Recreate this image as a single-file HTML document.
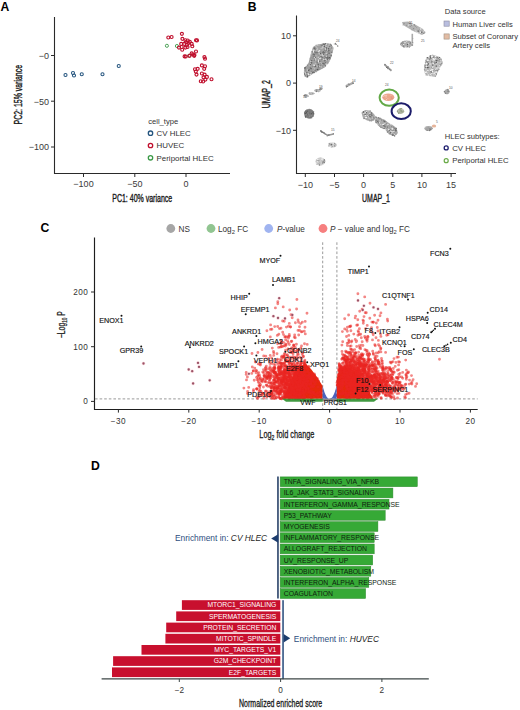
<!DOCTYPE html>
<html><head><meta charset="utf-8"><style>
html,body{margin:0;padding:0;background:#fff;width:520px;height:710px;overflow:hidden}
svg{display:block;font-family:"Liberation Sans",sans-serif}
</style></head><body>
<svg width="520" height="710" viewBox="0 0 520 710">
<text x="0.6" y="10.5" font-size="12.2" fill="#000" font-weight="bold">A</text>
<text x="247.8" y="10.8" font-size="12.2" fill="#000" font-weight="bold">B</text>
<text x="40.4" y="232.2" font-size="12.2" fill="#000" font-weight="bold">C</text>
<text x="91.1" y="469.9" font-size="12.2" fill="#000" font-weight="bold">D</text>
<path d="M54.5 17V173.5H230" fill="none" stroke="#2a2a2a" stroke-width="1.1"/>
<path d="M51 55.5H54.5" stroke="#2a2a2a" stroke-width="1"/>
<text x="49.0" y="58.7" font-size="9.0" fill="#3a3a3a" text-anchor="end">−0</text>
<path d="M51 101.2H54.5" stroke="#2a2a2a" stroke-width="1"/>
<text x="49.0" y="104.5" font-size="9.0" fill="#3a3a3a" text-anchor="end">−50</text>
<path d="M51 147.0H54.5" stroke="#2a2a2a" stroke-width="1"/>
<text x="49.0" y="150.2" font-size="9.0" fill="#3a3a3a" text-anchor="end">−100</text>
<path d="M83.5 173.5V177" stroke="#2a2a2a" stroke-width="1"/>
<text x="83.5" y="187.0" font-size="9.0" fill="#3a3a3a" text-anchor="middle">−100</text>
<path d="M134.8 173.5V177" stroke="#2a2a2a" stroke-width="1"/>
<text x="134.8" y="187.0" font-size="9.0" fill="#3a3a3a" text-anchor="middle">−50</text>
<path d="M186.0 173.5V177" stroke="#2a2a2a" stroke-width="1"/>
<text x="186.0" y="187.0" font-size="9.0" fill="#3a3a3a" text-anchor="middle">0</text>
<text transform="translate(142.2,201.6) scale(0.60,1)" font-size="11.7" fill="#1a1a1a" stroke="#1a1a1a" stroke-width="0.4" text-anchor="middle">PC1: 40% variance</text>
<text transform="translate(22.0,94.7) rotate(-90) scale(0.595,1)" font-size="11.7" fill="#1a1a1a" stroke="#1a1a1a" stroke-width="0.4" text-anchor="middle">PC2: 15% variance</text>
<text x="148.2" y="124.0" font-size="7.6" fill="#333">cell_type</text>
<circle cx="150.5" cy="133.2" r="2.2" fill="none" stroke="#25557f" stroke-width="1.3"/>
<text x="156.6" y="136.0" font-size="7.9" fill="#333">CV HLEC</text>
<circle cx="150.5" cy="145.5" r="2.2" fill="none" stroke="#c0102e" stroke-width="1.3"/>
<text x="156.6" y="148.3" font-size="7.9" fill="#333">HUVEC</text>
<circle cx="150.5" cy="157.8" r="2.2" fill="none" stroke="#3c9a48" stroke-width="1.3"/>
<text x="156.6" y="160.6" font-size="7.9" fill="#333">Periportal HLEC</text>
<circle cx="65.5" cy="75" r="1.55" fill="none" stroke="#25557f" stroke-width="1.05"/>
<circle cx="73" cy="73" r="1.55" fill="none" stroke="#25557f" stroke-width="1.05"/>
<circle cx="74" cy="75.5" r="1.55" fill="none" stroke="#25557f" stroke-width="1.05"/>
<circle cx="81.75" cy="74.25" r="1.55" fill="none" stroke="#25557f" stroke-width="1.05"/>
<circle cx="102.5" cy="74.25" r="1.55" fill="none" stroke="#25557f" stroke-width="1.05"/>
<circle cx="118.75" cy="66" r="1.55" fill="none" stroke="#25557f" stroke-width="1.05"/>
<circle cx="166.9" cy="45.8" r="1.55" fill="none" stroke="#3c9a48" stroke-width="0.9"/>
<circle cx="176.9" cy="46" r="1.55" fill="none" stroke="#3c9a48" stroke-width="0.9"/>
<circle cx="189.1" cy="55.7" r="1.55" fill="none" stroke="#3c9a48" stroke-width="0.9"/>
<circle cx="168.3" cy="37.5" r="1.5" fill="none" stroke="#c0102e" stroke-width="1.15"/>
<circle cx="171.6" cy="37" r="1.5" fill="none" stroke="#c0102e" stroke-width="1.15"/>
<circle cx="181.9" cy="33.8" r="1.5" fill="none" stroke="#c0102e" stroke-width="1.15"/>
<circle cx="182.4" cy="38.8" r="1.5" fill="none" stroke="#c0102e" stroke-width="1.15"/>
<circle cx="185.4" cy="40.2" r="1.5" fill="none" stroke="#c0102e" stroke-width="1.15"/>
<circle cx="187.7" cy="40.5" r="1.5" fill="none" stroke="#c0102e" stroke-width="1.15"/>
<circle cx="189.8" cy="41.8" r="1.5" fill="none" stroke="#c0102e" stroke-width="1.15"/>
<circle cx="196" cy="40.2" r="1.5" fill="none" stroke="#c0102e" stroke-width="1.15"/>
<circle cx="197" cy="40.4" r="1.5" fill="none" stroke="#c0102e" stroke-width="1.15"/>
<circle cx="181.2" cy="43.9" r="1.5" fill="none" stroke="#c0102e" stroke-width="1.15"/>
<circle cx="184.3" cy="43.9" r="1.5" fill="none" stroke="#c0102e" stroke-width="1.15"/>
<circle cx="187" cy="44.9" r="1.5" fill="none" stroke="#c0102e" stroke-width="1.15"/>
<circle cx="191.7" cy="43.9" r="1.5" fill="none" stroke="#c0102e" stroke-width="1.15"/>
<circle cx="192.3" cy="46.2" r="1.5" fill="none" stroke="#c0102e" stroke-width="1.15"/>
<circle cx="179" cy="47.6" r="1.5" fill="none" stroke="#c0102e" stroke-width="1.15"/>
<circle cx="181.7" cy="47" r="1.5" fill="none" stroke="#c0102e" stroke-width="1.15"/>
<circle cx="182.2" cy="49.7" r="1.5" fill="none" stroke="#c0102e" stroke-width="1.15"/>
<circle cx="185.4" cy="47.6" r="1.5" fill="none" stroke="#c0102e" stroke-width="1.15"/>
<circle cx="187.5" cy="47" r="1.5" fill="none" stroke="#c0102e" stroke-width="1.15"/>
<circle cx="186" cy="42" r="1.5" fill="none" stroke="#c0102e" stroke-width="1.15"/>
<circle cx="188.5" cy="43" r="1.5" fill="none" stroke="#c0102e" stroke-width="1.15"/>
<circle cx="184.6" cy="56.4" r="1.5" fill="none" stroke="#c0102e" stroke-width="1.15"/>
<circle cx="191.7" cy="53.4" r="1.5" fill="none" stroke="#c0102e" stroke-width="1.15"/>
<circle cx="194.4" cy="55" r="1.5" fill="none" stroke="#c0102e" stroke-width="1.15"/>
<circle cx="196" cy="51.5" r="1.5" fill="none" stroke="#c0102e" stroke-width="1.15"/>
<circle cx="193" cy="54.5" r="1.5" fill="none" stroke="#c0102e" stroke-width="1.15"/>
<circle cx="204.4" cy="57.1" r="1.5" fill="none" stroke="#c0102e" stroke-width="1.15"/>
<circle cx="205" cy="58.7" r="1.5" fill="none" stroke="#c0102e" stroke-width="1.15"/>
<circle cx="185.8" cy="56.5" r="1.5" fill="none" stroke="#c0102e" stroke-width="1.15"/>
<circle cx="189.6" cy="55.8" r="1.5" fill="none" stroke="#c0102e" stroke-width="1.15"/>
<circle cx="194.2" cy="55.8" r="1.5" fill="none" stroke="#c0102e" stroke-width="1.15"/>
<circle cx="201.9" cy="65.4" r="1.5" fill="none" stroke="#c0102e" stroke-width="1.15"/>
<circle cx="205" cy="66.2" r="1.5" fill="none" stroke="#c0102e" stroke-width="1.15"/>
<circle cx="204.2" cy="68.8" r="1.5" fill="none" stroke="#c0102e" stroke-width="1.15"/>
<circle cx="195" cy="69.2" r="1.5" fill="none" stroke="#c0102e" stroke-width="1.15"/>
<circle cx="197.7" cy="68.8" r="1.5" fill="none" stroke="#c0102e" stroke-width="1.15"/>
<circle cx="195.8" cy="71.5" r="1.5" fill="none" stroke="#c0102e" stroke-width="1.15"/>
<circle cx="196.5" cy="74.6" r="1.5" fill="none" stroke="#c0102e" stroke-width="1.15"/>
<circle cx="201.9" cy="73.5" r="1.5" fill="none" stroke="#c0102e" stroke-width="1.15"/>
<circle cx="204.6" cy="74.6" r="1.5" fill="none" stroke="#c0102e" stroke-width="1.15"/>
<circle cx="203.5" cy="77.3" r="1.5" fill="none" stroke="#c0102e" stroke-width="1.15"/>
<circle cx="206.9" cy="76.9" r="1.5" fill="none" stroke="#c0102e" stroke-width="1.15"/>
<circle cx="211.5" cy="79.2" r="1.5" fill="none" stroke="#c0102e" stroke-width="1.15"/>
<circle cx="200.8" cy="81.2" r="1.5" fill="none" stroke="#c0102e" stroke-width="1.15"/>
<circle cx="203.1" cy="81.5" r="1.5" fill="none" stroke="#c0102e" stroke-width="1.15"/>
<circle cx="205.4" cy="79.6" r="1.5" fill="none" stroke="#c0102e" stroke-width="1.15"/>
<path d="M296.5 15.6V173.5H456" fill="none" stroke="#2a2a2a" stroke-width="1.1"/>
<path d="M293 35.8H296.5" stroke="#2a2a2a" stroke-width="1"/>
<text x="291.0" y="39.0" font-size="9.0" fill="#3a3a3a" text-anchor="end">10</text>
<path d="M293 83.1H296.5" stroke="#2a2a2a" stroke-width="1"/>
<text x="291.0" y="86.3" font-size="9.0" fill="#3a3a3a" text-anchor="end">0</text>
<path d="M293 130.3H296.5" stroke="#2a2a2a" stroke-width="1"/>
<text x="291.0" y="133.5" font-size="9.0" fill="#3a3a3a" text-anchor="end">−10</text>
<path d="M305.3 173.5V177" stroke="#2a2a2a" stroke-width="1"/>
<text x="305.3" y="187.5" font-size="9.0" fill="#3a3a3a" text-anchor="middle">−10</text>
<path d="M334.5 173.5V177" stroke="#2a2a2a" stroke-width="1"/>
<text x="334.5" y="187.5" font-size="9.0" fill="#3a3a3a" text-anchor="middle">−5</text>
<path d="M363.6 173.5V177" stroke="#2a2a2a" stroke-width="1"/>
<text x="363.6" y="187.5" font-size="9.0" fill="#3a3a3a" text-anchor="middle">0</text>
<path d="M392.8 173.5V177" stroke="#2a2a2a" stroke-width="1"/>
<text x="392.8" y="187.5" font-size="9.0" fill="#3a3a3a" text-anchor="middle">5</text>
<path d="M421.9 173.5V177" stroke="#2a2a2a" stroke-width="1"/>
<text x="421.9" y="187.5" font-size="9.0" fill="#3a3a3a" text-anchor="middle">10</text>
<path d="M451.1 173.5V177" stroke="#2a2a2a" stroke-width="1"/>
<text x="451.1" y="187.5" font-size="9.0" fill="#3a3a3a" text-anchor="middle">15</text>
<text transform="translate(376,201.6) scale(0.596,1)" font-size="11.7" fill="#1a1a1a" stroke="#1a1a1a" stroke-width="0.4" text-anchor="middle">UMAP_1</text>
<text transform="translate(269.8,94.2) rotate(-90) scale(0.605,1)" font-size="11.7" fill="#1a1a1a" stroke="#1a1a1a" stroke-width="0.4" text-anchor="middle">UMAP_2</text>
<polygon points="303.8,72.3 305.0,67.0 308.5,63.0 310.0,57.0 311.5,51.5 313.0,47.0 316.0,45.0 322.0,43.8 328.0,43.2 331.5,44.5 333.5,48.0 333.0,51.0 331.5,56.0 330.8,59.0 328.5,63.0 325.4,67.0 320.0,70.0 315.4,72.3 311.0,75.0 307.0,77.7 304.5,76.5" fill="#a0a0a0"/>
<circle cx="313.4" cy="48.4" r="0.42" fill="#ccc"/>
<circle cx="328.2" cy="46.4" r="0.42" fill="#bbb"/>
<circle cx="318.9" cy="44.5" r="0.57" fill="#999"/>
<circle cx="310.9" cy="62.2" r="0.73" fill="#555"/>
<circle cx="320.9" cy="56.9" r="0.42" fill="#666"/>
<circle cx="329.3" cy="53.2" r="0.62" fill="#666"/>
<circle cx="320.8" cy="62.5" r="0.47" fill="#ccc"/>
<circle cx="321.1" cy="65.2" r="0.44" fill="#777"/>
<circle cx="324.9" cy="62.7" r="0.48" fill="#bbb"/>
<circle cx="324.0" cy="58.0" r="0.59" fill="#777"/>
<circle cx="331.2" cy="55.7" r="0.72" fill="#666"/>
<circle cx="324.6" cy="51.6" r="0.52" fill="#bbb"/>
<circle cx="318.5" cy="55.0" r="0.52" fill="#999"/>
<circle cx="332.9" cy="47.3" r="0.47" fill="#999"/>
<circle cx="313.9" cy="55.3" r="0.63" fill="#999"/>
<circle cx="323.5" cy="45.3" r="0.52" fill="#ccc"/>
<circle cx="321.0" cy="66.7" r="0.51" fill="#999"/>
<circle cx="315.3" cy="66.3" r="0.78" fill="#555"/>
<circle cx="314.4" cy="64.3" r="0.42" fill="#999"/>
<circle cx="326.6" cy="47.7" r="0.56" fill="#666"/>
<circle cx="316.6" cy="62.2" r="0.57" fill="#ccc"/>
<circle cx="332.2" cy="48.4" r="0.46" fill="#666"/>
<circle cx="328.5" cy="49.5" r="0.40" fill="#777"/>
<circle cx="316.2" cy="55.9" r="0.53" fill="#bbb"/>
<circle cx="307.5" cy="72.8" r="0.66" fill="#bbb"/>
<circle cx="325.8" cy="59.0" r="0.71" fill="#eee"/>
<circle cx="315.5" cy="57.0" r="0.59" fill="#555"/>
<circle cx="315.7" cy="49.8" r="0.58" fill="#666"/>
<circle cx="322.0" cy="45.6" r="0.65" fill="#666"/>
<circle cx="314.1" cy="55.8" r="0.45" fill="#555"/>
<circle cx="318.1" cy="54.0" r="0.44" fill="#666"/>
<circle cx="314.0" cy="52.3" r="0.68" fill="#eee"/>
<circle cx="319.1" cy="50.3" r="0.54" fill="#bbb"/>
<circle cx="326.3" cy="53.5" r="0.75" fill="#ccc"/>
<circle cx="324.5" cy="52.2" r="0.76" fill="#777"/>
<circle cx="314.4" cy="50.9" r="0.71" fill="#bbb"/>
<circle cx="313.6" cy="50.9" r="0.72" fill="#eee"/>
<circle cx="326.3" cy="49.9" r="0.73" fill="#666"/>
<circle cx="325.8" cy="51.0" r="0.60" fill="#bbb"/>
<circle cx="327.3" cy="59.5" r="0.68" fill="#666"/>
<circle cx="328.8" cy="59.7" r="0.54" fill="#ccc"/>
<circle cx="324.9" cy="50.1" r="0.57" fill="#666"/>
<circle cx="322.7" cy="46.2" r="0.56" fill="#ccc"/>
<circle cx="325.3" cy="49.1" r="0.41" fill="#666"/>
<circle cx="321.3" cy="59.3" r="0.46" fill="#ccc"/>
<circle cx="323.3" cy="55.3" r="0.62" fill="#bbb"/>
<circle cx="304.4" cy="70.8" r="0.66" fill="#ccc"/>
<circle cx="328.3" cy="50.5" r="0.49" fill="#777"/>
<circle cx="318.7" cy="69.5" r="0.50" fill="#777"/>
<circle cx="316.2" cy="47.7" r="0.54" fill="#ccc"/>
<circle cx="317.4" cy="63.3" r="0.57" fill="#bbb"/>
<circle cx="319.6" cy="61.3" r="0.75" fill="#555"/>
<circle cx="326.9" cy="64.2" r="0.72" fill="#eee"/>
<circle cx="325.3" cy="62.4" r="0.67" fill="#777"/>
<circle cx="319.6" cy="59.8" r="0.44" fill="#eee"/>
<circle cx="320.4" cy="51.8" r="0.42" fill="#777"/>
<circle cx="304.6" cy="74.0" r="0.58" fill="#555"/>
<circle cx="322.0" cy="60.6" r="0.48" fill="#bbb"/>
<circle cx="312.0" cy="60.7" r="0.59" fill="#eee"/>
<circle cx="311.5" cy="62.5" r="0.74" fill="#666"/>
<circle cx="316.9" cy="45.7" r="0.57" fill="#666"/>
<circle cx="307.4" cy="70.0" r="0.66" fill="#ccc"/>
<circle cx="314.7" cy="51.9" r="0.79" fill="#666"/>
<circle cx="315.6" cy="60.0" r="0.73" fill="#ccc"/>
<circle cx="319.1" cy="54.9" r="0.54" fill="#666"/>
<circle cx="313.8" cy="59.0" r="0.41" fill="#ccc"/>
<circle cx="313.6" cy="64.7" r="0.78" fill="#bbb"/>
<circle cx="307.2" cy="74.9" r="0.79" fill="#666"/>
<circle cx="305.0" cy="70.1" r="0.70" fill="#777"/>
<circle cx="315.9" cy="61.7" r="0.63" fill="#bbb"/>
<circle cx="324.6" cy="46.3" r="0.72" fill="#555"/>
<circle cx="309.2" cy="74.1" r="0.78" fill="#777"/>
<circle cx="306.3" cy="72.7" r="0.51" fill="#555"/>
<circle cx="305.1" cy="67.7" r="0.79" fill="#555"/>
<circle cx="319.6" cy="50.3" r="0.60" fill="#999"/>
<circle cx="320.2" cy="49.7" r="0.50" fill="#999"/>
<circle cx="317.1" cy="65.9" r="0.57" fill="#ccc"/>
<circle cx="315.5" cy="60.7" r="0.49" fill="#ccc"/>
<circle cx="329.9" cy="58.1" r="0.43" fill="#555"/>
<circle cx="323.7" cy="52.9" r="0.68" fill="#666"/>
<circle cx="314.6" cy="54.5" r="0.53" fill="#bbb"/>
<circle cx="304.8" cy="73.6" r="0.54" fill="#666"/>
<circle cx="317.9" cy="60.5" r="0.50" fill="#666"/>
<circle cx="326.9" cy="46.3" r="0.44" fill="#eee"/>
<circle cx="310.7" cy="63.4" r="0.74" fill="#bbb"/>
<circle cx="308.4" cy="74.0" r="0.75" fill="#eee"/>
<circle cx="315.4" cy="54.5" r="0.46" fill="#999"/>
<circle cx="325.3" cy="65.4" r="0.73" fill="#555"/>
<circle cx="325.0" cy="60.9" r="0.69" fill="#999"/>
<circle cx="327.9" cy="48.0" r="0.70" fill="#bbb"/>
<circle cx="315.0" cy="58.8" r="0.65" fill="#555"/>
<circle cx="322.4" cy="66.7" r="0.51" fill="#999"/>
<circle cx="317.4" cy="45.6" r="0.76" fill="#bbb"/>
<circle cx="325.9" cy="59.5" r="0.43" fill="#eee"/>
<circle cx="311.7" cy="68.4" r="0.49" fill="#666"/>
<circle cx="323.1" cy="59.1" r="0.55" fill="#eee"/>
<circle cx="318.0" cy="66.8" r="0.42" fill="#eee"/>
<circle cx="322.6" cy="50.0" r="0.46" fill="#bbb"/>
<circle cx="311.3" cy="68.8" r="0.65" fill="#777"/>
<circle cx="318.3" cy="67.7" r="0.59" fill="#777"/>
<circle cx="317.7" cy="47.3" r="0.48" fill="#bbb"/>
<circle cx="317.1" cy="52.5" r="0.77" fill="#666"/>
<circle cx="331.4" cy="45.8" r="0.46" fill="#555"/>
<circle cx="307.7" cy="71.5" r="0.51" fill="#bbb"/>
<circle cx="315.5" cy="48.7" r="0.67" fill="#999"/>
<circle cx="315.8" cy="68.3" r="0.54" fill="#999"/>
<circle cx="313.2" cy="72.2" r="0.53" fill="#555"/>
<circle cx="313.8" cy="56.9" r="0.69" fill="#666"/>
<circle cx="330.6" cy="53.2" r="0.43" fill="#777"/>
<circle cx="306.1" cy="75.1" r="0.51" fill="#eee"/>
<circle cx="328.6" cy="53.1" r="0.50" fill="#666"/>
<circle cx="311.7" cy="60.8" r="0.71" fill="#666"/>
<circle cx="327.1" cy="58.0" r="0.72" fill="#555"/>
<circle cx="325.2" cy="44.9" r="0.56" fill="#ccc"/>
<circle cx="322.1" cy="48.0" r="0.51" fill="#eee"/>
<circle cx="305.3" cy="75.2" r="0.47" fill="#666"/>
<circle cx="316.1" cy="52.9" r="0.70" fill="#777"/>
<circle cx="323.3" cy="53.6" r="0.67" fill="#bbb"/>
<circle cx="307.4" cy="65.4" r="0.48" fill="#555"/>
<circle cx="310.3" cy="74.5" r="0.58" fill="#eee"/>
<circle cx="311.5" cy="62.9" r="0.70" fill="#555"/>
<circle cx="316.1" cy="57.5" r="0.48" fill="#bbb"/>
<circle cx="311.8" cy="69.1" r="0.51" fill="#999"/>
<circle cx="332.5" cy="47.5" r="0.61" fill="#bbb"/>
<circle cx="306.6" cy="74.1" r="0.56" fill="#999"/>
<circle cx="317.9" cy="63.5" r="0.43" fill="#555"/>
<circle cx="319.5" cy="59.4" r="0.50" fill="#999"/>
<circle cx="319.3" cy="66.7" r="0.69" fill="#eee"/>
<circle cx="317.4" cy="62.2" r="0.40" fill="#555"/>
<circle cx="304.9" cy="67.9" r="0.65" fill="#666"/>
<circle cx="319.5" cy="58.3" r="0.44" fill="#eee"/>
<circle cx="321.1" cy="56.6" r="0.72" fill="#666"/>
<circle cx="313.2" cy="72.2" r="0.59" fill="#666"/>
<circle cx="318.6" cy="66.5" r="0.43" fill="#999"/>
<circle cx="310.6" cy="57.8" r="0.49" fill="#777"/>
<circle cx="316.3" cy="66.7" r="0.40" fill="#666"/>
<circle cx="312.5" cy="72.4" r="0.48" fill="#555"/>
<circle cx="328.2" cy="51.2" r="0.51" fill="#666"/>
<circle cx="330.2" cy="47.0" r="0.60" fill="#bbb"/>
<circle cx="316.2" cy="66.2" r="0.46" fill="#bbb"/>
<circle cx="315.5" cy="50.5" r="0.46" fill="#bbb"/>
<circle cx="313.6" cy="49.6" r="0.70" fill="#bbb"/>
<circle cx="315.0" cy="56.1" r="0.58" fill="#777"/>
<circle cx="326.3" cy="56.3" r="0.73" fill="#eee"/>
<circle cx="328.2" cy="58.1" r="0.68" fill="#555"/>
<circle cx="309.6" cy="61.9" r="0.48" fill="#999"/>
<circle cx="305.7" cy="74.9" r="0.48" fill="#777"/>
<circle cx="314.6" cy="54.8" r="0.42" fill="#bbb"/>
<circle cx="331.2" cy="53.5" r="0.70" fill="#ccc"/>
<circle cx="310.7" cy="59.6" r="0.78" fill="#999"/>
<circle cx="315.3" cy="51.9" r="0.73" fill="#999"/>
<circle cx="312.8" cy="67.1" r="0.64" fill="#666"/>
<circle cx="313.5" cy="54.2" r="0.71" fill="#777"/>
<circle cx="321.5" cy="60.9" r="0.70" fill="#999"/>
<circle cx="324.9" cy="58.6" r="0.45" fill="#666"/>
<circle cx="310.8" cy="61.8" r="0.67" fill="#eee"/>
<circle cx="307.4" cy="72.2" r="0.51" fill="#777"/>
<circle cx="311.7" cy="52.0" r="0.48" fill="#777"/>
<circle cx="308.4" cy="73.7" r="0.48" fill="#bbb"/>
<circle cx="311.1" cy="61.4" r="0.72" fill="#ccc"/>
<circle cx="331.0" cy="44.6" r="0.49" fill="#777"/>
<circle cx="328.4" cy="49.9" r="0.55" fill="#555"/>
<circle cx="329.5" cy="58.7" r="0.71" fill="#777"/>
<circle cx="322.7" cy="67.7" r="0.49" fill="#777"/>
<circle cx="314.8" cy="48.1" r="0.80" fill="#666"/>
<circle cx="304.9" cy="68.5" r="0.73" fill="#666"/>
<circle cx="328.1" cy="57.3" r="0.47" fill="#777"/>
<circle cx="313.1" cy="50.2" r="0.60" fill="#eee"/>
<circle cx="318.2" cy="57.3" r="0.56" fill="#eee"/>
<circle cx="320.1" cy="65.3" r="0.66" fill="#555"/>
<circle cx="315.6" cy="52.6" r="0.67" fill="#777"/>
<circle cx="316.2" cy="45.0" r="0.63" fill="#ccc"/>
<circle cx="314.4" cy="57.6" r="0.71" fill="#eee"/>
<circle cx="315.4" cy="57.2" r="0.57" fill="#555"/>
<circle cx="314.6" cy="69.9" r="0.41" fill="#666"/>
<circle cx="320.2" cy="65.3" r="0.44" fill="#999"/>
<circle cx="322.3" cy="56.0" r="0.47" fill="#bbb"/>
<circle cx="314.1" cy="48.8" r="0.77" fill="#666"/>
<circle cx="318.1" cy="45.0" r="0.56" fill="#ccc"/>
<circle cx="328.3" cy="48.7" r="0.74" fill="#eee"/>
<circle cx="322.2" cy="64.4" r="0.73" fill="#666"/>
<circle cx="315.7" cy="61.1" r="0.54" fill="#999"/>
<circle cx="308.2" cy="76.7" r="0.76" fill="#eee"/>
<circle cx="326.3" cy="44.5" r="0.53" fill="#eee"/>
<circle cx="315.4" cy="58.9" r="0.65" fill="#eee"/>
<circle cx="312.9" cy="57.7" r="0.50" fill="#bbb"/>
<circle cx="315.4" cy="55.9" r="0.58" fill="#bbb"/>
<circle cx="318.3" cy="51.3" r="0.65" fill="#eee"/>
<circle cx="327.9" cy="57.0" r="0.45" fill="#555"/>
<circle cx="316.6" cy="46.4" r="0.60" fill="#999"/>
<circle cx="323.3" cy="44.6" r="0.43" fill="#666"/>
<circle cx="319.0" cy="45.1" r="0.76" fill="#bbb"/>
<circle cx="322.0" cy="67.1" r="0.48" fill="#555"/>
<circle cx="308.7" cy="70.4" r="0.43" fill="#666"/>
<circle cx="314.2" cy="69.3" r="0.53" fill="#666"/>
<circle cx="317.4" cy="52.0" r="0.48" fill="#999"/>
<circle cx="311.6" cy="60.7" r="0.55" fill="#777"/>
<circle cx="322.7" cy="52.8" r="0.76" fill="#777"/>
<circle cx="308.8" cy="70.3" r="0.71" fill="#555"/>
<circle cx="305.2" cy="72.8" r="0.58" fill="#eee"/>
<circle cx="319.3" cy="67.0" r="0.50" fill="#555"/>
<circle cx="325.7" cy="56.0" r="0.80" fill="#999"/>
<circle cx="320.9" cy="55.6" r="0.43" fill="#eee"/>
<circle cx="310.6" cy="64.4" r="0.52" fill="#555"/>
<circle cx="319.1" cy="53.9" r="0.63" fill="#eee"/>
<circle cx="323.5" cy="54.0" r="0.70" fill="#555"/>
<circle cx="322.4" cy="57.6" r="0.76" fill="#777"/>
<circle cx="323.2" cy="44.0" r="0.63" fill="#555"/>
<circle cx="312.8" cy="61.2" r="0.49" fill="#bbb"/>
<circle cx="321.1" cy="63.5" r="0.55" fill="#666"/>
<circle cx="328.4" cy="48.7" r="0.77" fill="#555"/>
<circle cx="306.6" cy="65.2" r="0.67" fill="#eee"/>
<circle cx="311.8" cy="71.2" r="0.42" fill="#555"/>
<circle cx="321.5" cy="63.2" r="0.77" fill="#bbb"/>
<circle cx="325.6" cy="51.8" r="0.42" fill="#555"/>
<circle cx="319.6" cy="57.2" r="0.46" fill="#666"/>
<circle cx="330.9" cy="46.8" r="0.62" fill="#bbb"/>
<circle cx="331.7" cy="48.1" r="0.61" fill="#666"/>
<circle cx="322.9" cy="65.5" r="0.73" fill="#999"/>
<circle cx="317.6" cy="68.8" r="0.47" fill="#999"/>
<circle cx="322.9" cy="47.5" r="0.77" fill="#ccc"/>
<circle cx="331.8" cy="52.3" r="0.51" fill="#555"/>
<circle cx="320.2" cy="58.2" r="0.77" fill="#eee"/>
<circle cx="308.8" cy="74.4" r="0.70" fill="#eee"/>
<circle cx="313.6" cy="51.5" r="0.65" fill="#eee"/>
<circle cx="324.4" cy="66.2" r="0.59" fill="#bbb"/>
<circle cx="329.3" cy="58.3" r="0.49" fill="#ccc"/>
<circle cx="315.4" cy="63.4" r="0.76" fill="#bbb"/>
<circle cx="307.0" cy="75.2" r="0.79" fill="#777"/>
<circle cx="324.6" cy="44.3" r="0.68" fill="#666"/>
<circle cx="322.6" cy="67.2" r="0.42" fill="#ccc"/>
<circle cx="319.7" cy="66.1" r="0.70" fill="#eee"/>
<circle cx="324.9" cy="56.4" r="0.48" fill="#666"/>
<circle cx="322.6" cy="53.1" r="0.45" fill="#555"/>
<circle cx="312.5" cy="54.8" r="0.41" fill="#777"/>
<circle cx="311.4" cy="52.9" r="0.70" fill="#ccc"/>
<circle cx="321.7" cy="59.6" r="0.65" fill="#777"/>
<circle cx="316.8" cy="69.9" r="0.59" fill="#777"/>
<circle cx="320.9" cy="53.1" r="0.40" fill="#999"/>
<circle cx="309.8" cy="69.5" r="0.40" fill="#555"/>
<circle cx="318.4" cy="60.2" r="0.73" fill="#eee"/>
<circle cx="321.0" cy="48.7" r="0.49" fill="#eee"/>
<circle cx="324.6" cy="60.4" r="0.78" fill="#555"/>
<circle cx="326.6" cy="60.1" r="0.62" fill="#ccc"/>
<circle cx="306.6" cy="75.2" r="0.43" fill="#ccc"/>
<circle cx="330.2" cy="44.1" r="0.52" fill="#666"/>
<circle cx="316.5" cy="62.0" r="0.55" fill="#666"/>
<circle cx="330.1" cy="51.3" r="0.45" fill="#999"/>
<circle cx="321.4" cy="67.0" r="0.66" fill="#bbb"/>
<circle cx="314.2" cy="54.5" r="0.75" fill="#666"/>
<circle cx="317.2" cy="62.3" r="0.47" fill="#777"/>
<circle cx="316.8" cy="69.9" r="0.49" fill="#bbb"/>
<circle cx="313.7" cy="65.4" r="0.50" fill="#ccc"/>
<circle cx="311.2" cy="54.5" r="0.54" fill="#bbb"/>
<circle cx="333.3" cy="48.9" r="0.44" fill="#ccc"/>
<circle cx="316.7" cy="50.0" r="0.76" fill="#ccc"/>
<circle cx="312.1" cy="73.7" r="0.41" fill="#999"/>
<circle cx="315.7" cy="70.5" r="0.49" fill="#ccc"/>
<circle cx="311.0" cy="72.6" r="0.63" fill="#ccc"/>
<circle cx="326.0" cy="57.7" r="0.67" fill="#666"/>
<circle cx="322.9" cy="63.3" r="0.67" fill="#666"/>
<circle cx="322.9" cy="58.9" r="0.50" fill="#777"/>
<circle cx="311.0" cy="57.0" r="0.65" fill="#ccc"/>
<circle cx="311.2" cy="57.8" r="0.41" fill="#999"/>
<circle cx="329.3" cy="61.1" r="0.77" fill="#ccc"/>
<circle cx="309.2" cy="65.8" r="0.40" fill="#eee"/>
<circle cx="310.3" cy="67.9" r="0.61" fill="#666"/>
<circle cx="319.9" cy="67.9" r="0.41" fill="#bbb"/>
<circle cx="327.3" cy="56.0" r="0.56" fill="#777"/>
<circle cx="332.0" cy="50.4" r="0.47" fill="#ccc"/>
<circle cx="325.5" cy="64.4" r="0.42" fill="#ccc"/>
<circle cx="311.9" cy="57.0" r="0.43" fill="#555"/>
<circle cx="323.8" cy="63.2" r="0.49" fill="#555"/>
<circle cx="319.5" cy="50.8" r="0.78" fill="#eee"/>
<circle cx="317.5" cy="48.9" r="0.43" fill="#eee"/>
<circle cx="327.5" cy="49.9" r="0.62" fill="#ccc"/>
<circle cx="314.3" cy="65.2" r="0.72" fill="#eee"/>
<circle cx="326.4" cy="65.6" r="0.73" fill="#eee"/>
<circle cx="314.3" cy="72.5" r="0.68" fill="#777"/>
<circle cx="324.0" cy="59.8" r="0.69" fill="#eee"/>
<circle cx="312.2" cy="51.7" r="0.53" fill="#777"/>
<circle cx="318.2" cy="64.7" r="0.66" fill="#555"/>
<circle cx="329.2" cy="45.2" r="0.63" fill="#eee"/>
<circle cx="319.6" cy="55.1" r="0.41" fill="#bbb"/>
<circle cx="323.3" cy="51.8" r="0.63" fill="#555"/>
<circle cx="329.2" cy="49.6" r="0.54" fill="#999"/>
<circle cx="308.3" cy="74.4" r="0.61" fill="#eee"/>
<circle cx="321.9" cy="66.9" r="0.44" fill="#eee"/>
<circle cx="322.7" cy="53.4" r="0.68" fill="#999"/>
<circle cx="319.6" cy="68.8" r="0.67" fill="#999"/>
<circle cx="316.2" cy="71.7" r="0.60" fill="#999"/>
<circle cx="318.6" cy="61.8" r="0.69" fill="#eee"/>
<circle cx="324.5" cy="60.4" r="0.74" fill="#777"/>
<circle cx="314.9" cy="57.6" r="0.43" fill="#ccc"/>
<circle cx="322.7" cy="65.1" r="0.41" fill="#555"/>
<circle cx="305.2" cy="68.6" r="0.72" fill="#777"/>
<circle cx="326.3" cy="48.2" r="0.69" fill="#666"/>
<circle cx="322.4" cy="54.9" r="0.66" fill="#eee"/>
<circle cx="313.9" cy="70.1" r="0.71" fill="#bbb"/>
<circle cx="310.1" cy="58.2" r="0.50" fill="#999"/>
<circle cx="314.3" cy="60.2" r="0.60" fill="#777"/>
<circle cx="311.9" cy="60.7" r="0.66" fill="#666"/>
<circle cx="327.3" cy="54.6" r="0.69" fill="#777"/>
<circle cx="307.6" cy="76.8" r="0.71" fill="#555"/>
<circle cx="305.0" cy="68.1" r="0.62" fill="#999"/>
<circle cx="322.1" cy="64.8" r="0.68" fill="#ccc"/>
<circle cx="329.8" cy="46.1" r="0.67" fill="#555"/>
<circle cx="317.4" cy="69.5" r="0.67" fill="#555"/>
<circle cx="329.6" cy="57.7" r="0.77" fill="#555"/>
<circle cx="323.3" cy="55.9" r="0.46" fill="#eee"/>
<circle cx="313.0" cy="67.7" r="0.52" fill="#eee"/>
<circle cx="316.3" cy="54.2" r="0.63" fill="#999"/>
<circle cx="318.6" cy="61.2" r="0.45" fill="#eee"/>
<circle cx="327.9" cy="63.0" r="0.58" fill="#999"/>
<circle cx="316.0" cy="46.7" r="0.59" fill="#ccc"/>
<circle cx="329.3" cy="50.7" r="0.45" fill="#555"/>
<circle cx="311.0" cy="68.5" r="0.77" fill="#666"/>
<circle cx="314.7" cy="69.0" r="0.74" fill="#ccc"/>
<circle cx="325.5" cy="46.1" r="0.62" fill="#ccc"/>
<circle cx="318.6" cy="66.3" r="0.77" fill="#777"/>
<circle cx="305.6" cy="73.7" r="0.73" fill="#ccc"/>
<circle cx="325.5" cy="48.9" r="0.73" fill="#eee"/>
<circle cx="321.9" cy="54.1" r="0.69" fill="#bbb"/>
<circle cx="317.8" cy="48.9" r="0.45" fill="#eee"/>
<circle cx="332.1" cy="48.9" r="0.57" fill="#eee"/>
<circle cx="315.3" cy="70.3" r="0.71" fill="#777"/>
<circle cx="320.6" cy="53.3" r="0.65" fill="#555"/>
<circle cx="325.4" cy="43.7" r="0.64" fill="#666"/>
<circle cx="313.0" cy="58.0" r="0.55" fill="#666"/>
<circle cx="324.1" cy="64.0" r="0.72" fill="#666"/>
<polygon points="314.4,113.8 313.7,116.3 311.8,118.1 309.2,118.8 306.6,118.1 304.7,116.3 304.0,113.8 304.7,111.3 306.6,109.5 309.2,108.8 311.8,109.5 313.7,111.3" fill="#7c7c7c"/>
<circle cx="306.7" cy="113.0" r="0.45" fill="#555"/>
<circle cx="309.7" cy="116.6" r="0.47" fill="#aaa"/>
<circle cx="304.9" cy="114.3" r="0.42" fill="#aaa"/>
<circle cx="311.8" cy="118.1" r="0.46" fill="#666"/>
<circle cx="304.6" cy="112.8" r="0.67" fill="#666"/>
<circle cx="308.0" cy="114.2" r="0.62" fill="#999"/>
<circle cx="306.4" cy="114.6" r="0.66" fill="#999"/>
<circle cx="309.4" cy="113.6" r="0.42" fill="#666"/>
<circle cx="306.0" cy="110.6" r="0.48" fill="#999"/>
<circle cx="309.9" cy="112.8" r="0.44" fill="#666"/>
<circle cx="313.6" cy="113.7" r="0.48" fill="#555"/>
<circle cx="308.8" cy="109.6" r="0.56" fill="#999"/>
<circle cx="307.6" cy="114.0" r="0.38" fill="#555"/>
<circle cx="306.1" cy="117.5" r="0.56" fill="#aaa"/>
<circle cx="306.9" cy="109.8" r="0.62" fill="#aaa"/>
<circle cx="306.1" cy="110.6" r="0.36" fill="#555"/>
<circle cx="311.3" cy="113.7" r="0.65" fill="#555"/>
<circle cx="310.7" cy="118.0" r="0.44" fill="#555"/>
<circle cx="309.9" cy="115.2" r="0.41" fill="#aaa"/>
<circle cx="312.8" cy="112.5" r="0.70" fill="#666"/>
<circle cx="306.7" cy="112.3" r="0.64" fill="#555"/>
<circle cx="311.4" cy="115.3" r="0.37" fill="#aaa"/>
<circle cx="305.5" cy="116.3" r="0.59" fill="#666"/>
<circle cx="307.1" cy="114.7" r="0.51" fill="#555"/>
<circle cx="307.9" cy="112.7" r="0.52" fill="#999"/>
<circle cx="305.8" cy="111.2" r="0.67" fill="#666"/>
<circle cx="313.3" cy="113.5" r="0.63" fill="#666"/>
<circle cx="305.6" cy="117.1" r="0.68" fill="#555"/>
<circle cx="305.5" cy="113.3" r="0.67" fill="#555"/>
<circle cx="307.4" cy="111.1" r="0.57" fill="#555"/>
<circle cx="334.1" cy="44.0" r="0.41" fill="#777"/>
<circle cx="336.0" cy="44.1" r="0.44" fill="#777"/>
<circle cx="336.3" cy="44.4" r="0.61" fill="#999"/>
<circle cx="334.9" cy="44.1" r="0.38" fill="#777"/>
<circle cx="335.4" cy="43.5" r="0.63" fill="#777"/>
<circle cx="335.9" cy="44.3" r="0.40" fill="#777"/>
<circle cx="337.2" cy="45.7" r="0.41" fill="#999"/>
<circle cx="337.8" cy="45.9" r="0.53" fill="#777"/>
<circle cx="335.5" cy="44.4" r="0.38" fill="#999"/>
<circle cx="337.8" cy="46.2" r="0.47" fill="#777"/>
<polygon points="346.3,87.5 354.0,83.5 353.0,81.5 345.3,85.5" fill="#aaa"/>
<circle cx="347.4" cy="86.5" r="0.62" fill="#888"/>
<circle cx="353.1" cy="83.3" r="0.68" fill="#666"/>
<circle cx="349.6" cy="84.6" r="0.36" fill="#666"/>
<circle cx="347.5" cy="86.4" r="0.36" fill="#666"/>
<circle cx="347.6" cy="86.5" r="0.53" fill="#888"/>
<circle cx="349.6" cy="84.5" r="0.39" fill="#888"/>
<circle cx="346.4" cy="86.8" r="0.65" fill="#666"/>
<circle cx="346.6" cy="84.9" r="0.41" fill="#888"/>
<circle cx="348.7" cy="84.0" r="0.49" fill="#666"/>
<circle cx="348.2" cy="84.1" r="0.64" fill="#888"/>
<polygon points="308.6,95.8 308.3,96.6 307.3,97.2 306.0,97.4 304.7,97.2 303.7,96.6 303.4,95.8 303.7,95.0 304.7,94.4 306.0,94.2 307.3,94.4 308.3,95.0" fill="#b8b8b8"/>
<circle cx="306.1" cy="97.3" r="0.44" fill="#888"/>
<circle cx="305.6" cy="96.2" r="0.39" fill="#888"/>
<circle cx="304.4" cy="95.2" r="0.53" fill="#666"/>
<circle cx="308.3" cy="96.2" r="0.36" fill="#666"/>
<circle cx="306.7" cy="95.1" r="0.57" fill="#888"/>
<circle cx="305.2" cy="94.7" r="0.56" fill="#666"/>
<polygon points="314.5,93.5 314.1,94.2 313.0,94.8 311.5,95.0 310.0,94.8 308.9,94.2 308.5,93.5 308.9,92.8 310.0,92.2 311.5,92.0 313.0,92.2 314.1,92.8" fill="#c0c0c0"/>
<circle cx="314.2" cy="93.5" r="0.38" fill="#999"/>
<circle cx="312.0" cy="94.8" r="0.39" fill="#999"/>
<circle cx="309.3" cy="92.9" r="0.55" fill="#999"/>
<circle cx="310.1" cy="94.2" r="0.64" fill="#999"/>
<circle cx="312.2" cy="93.7" r="0.42" fill="#999"/>
<circle cx="312.8" cy="93.4" r="0.56" fill="#999"/>
<polygon points="321.0,90.5 320.5,91.3 319.2,91.9 317.5,92.1 315.8,91.9 314.5,91.3 314.0,90.5 314.5,89.7 315.8,89.1 317.5,88.9 319.2,89.1 320.5,89.7" fill="#bbbbbb"/>
<circle cx="317.3" cy="89.9" r="0.47" fill="#777"/>
<circle cx="315.3" cy="90.6" r="0.35" fill="#999"/>
<circle cx="316.5" cy="91.7" r="0.46" fill="#777"/>
<circle cx="316.3" cy="89.8" r="0.45" fill="#777"/>
<circle cx="319.4" cy="89.4" r="0.56" fill="#777"/>
<circle cx="316.4" cy="91.0" r="0.64" fill="#999"/>
<circle cx="316.5" cy="91.3" r="0.70" fill="#777"/>
<circle cx="318.7" cy="91.9" r="0.47" fill="#999"/>
<polygon points="322.8,88.6 322.6,89.2 321.9,89.6 321.0,89.8 320.1,89.6 319.4,89.2 319.2,88.6 319.4,88.0 320.1,87.6 321.0,87.4 321.9,87.6 322.6,88.0" fill="#aaa"/>
<circle cx="320.5" cy="89.0" r="0.64" fill="#777"/>
<circle cx="321.1" cy="89.2" r="0.44" fill="#777"/>
<circle cx="321.5" cy="88.9" r="0.49" fill="#777"/>
<polygon points="320.0,131.4 327.6,136.1 328.4,134.9 320.8,130.2" fill="#999"/>
<circle cx="323.0" cy="132.3" r="0.58" fill="#666"/>
<circle cx="322.1" cy="132.1" r="0.66" fill="#666"/>
<circle cx="325.8" cy="134.6" r="0.41" fill="#666"/>
<circle cx="324.9" cy="134.1" r="0.41" fill="#666"/>
<circle cx="327.3" cy="135.5" r="0.55" fill="#666"/>
<circle cx="320.9" cy="130.8" r="0.68" fill="#666"/>
<circle cx="324.1" cy="133.0" r="0.63" fill="#666"/>
<circle cx="321.4" cy="131.8" r="0.65" fill="#666"/>
<polygon points="327.2,136.2 333.7,134.7 333.3,133.3 326.8,134.8" fill="#999"/>
<circle cx="333.3" cy="133.5" r="0.51" fill="#666"/>
<circle cx="333.4" cy="134.6" r="0.44" fill="#666"/>
<circle cx="327.1" cy="136.0" r="0.46" fill="#666"/>
<circle cx="328.9" cy="135.0" r="0.69" fill="#666"/>
<polygon points="337.0,145.0 336.4,146.3 334.8,147.3 332.5,147.6 330.2,147.3 328.6,146.3 328.0,145.0 328.6,143.7 330.2,142.7 332.5,142.4 334.8,142.7 336.4,143.7" fill="#cfcfcf"/>
<circle cx="328.6" cy="145.9" r="0.49" fill="#888"/>
<circle cx="331.6" cy="146.1" r="0.63" fill="#666"/>
<circle cx="330.2" cy="143.3" r="0.48" fill="#aaa"/>
<circle cx="331.6" cy="144.3" r="0.54" fill="#aaa"/>
<circle cx="331.5" cy="144.5" r="0.69" fill="#666"/>
<circle cx="331.8" cy="147.1" r="0.49" fill="#888"/>
<circle cx="332.2" cy="144.2" r="0.36" fill="#fff"/>
<circle cx="334.0" cy="144.2" r="0.43" fill="#888"/>
<circle cx="329.2" cy="143.4" r="0.54" fill="#888"/>
<circle cx="332.2" cy="146.5" r="0.41" fill="#888"/>
<circle cx="331.2" cy="146.2" r="0.57" fill="#fff"/>
<circle cx="333.2" cy="143.9" r="0.53" fill="#fff"/>
<circle cx="330.0" cy="144.8" r="0.68" fill="#888"/>
<circle cx="332.8" cy="144.5" r="0.39" fill="#888"/>
<circle cx="334.8" cy="145.9" r="0.54" fill="#666"/>
<circle cx="330.4" cy="146.4" r="0.36" fill="#fff"/>
<circle cx="334.5" cy="143.2" r="0.49" fill="#666"/>
<circle cx="335.7" cy="144.1" r="0.37" fill="#666"/>
<polygon points="325.4,161.5 324.7,163.6 322.9,165.1 320.4,165.7 317.9,165.1 316.1,163.6 315.4,161.5 316.1,159.4 317.9,157.9 320.4,157.3 322.9,157.9 324.7,159.4" fill="#cccccc"/>
<circle cx="323.0" cy="158.9" r="0.38" fill="#aaa"/>
<circle cx="318.3" cy="164.2" r="0.45" fill="#fff"/>
<circle cx="319.4" cy="164.9" r="0.68" fill="#888"/>
<circle cx="317.2" cy="160.4" r="0.66" fill="#aaa"/>
<circle cx="319.4" cy="164.9" r="0.41" fill="#666"/>
<circle cx="322.7" cy="163.3" r="0.49" fill="#666"/>
<circle cx="321.5" cy="160.9" r="0.40" fill="#aaa"/>
<circle cx="322.8" cy="161.9" r="0.55" fill="#888"/>
<circle cx="317.7" cy="161.5" r="0.44" fill="#fff"/>
<circle cx="319.7" cy="163.0" r="0.68" fill="#aaa"/>
<circle cx="316.5" cy="163.7" r="0.67" fill="#aaa"/>
<circle cx="324.2" cy="162.2" r="0.69" fill="#666"/>
<circle cx="318.6" cy="163.8" r="0.61" fill="#aaa"/>
<circle cx="316.3" cy="163.1" r="0.70" fill="#fff"/>
<circle cx="321.6" cy="159.2" r="0.38" fill="#fff"/>
<circle cx="324.9" cy="160.9" r="0.59" fill="#aaa"/>
<circle cx="322.8" cy="164.3" r="0.53" fill="#fff"/>
<circle cx="322.2" cy="159.0" r="0.65" fill="#fff"/>
<circle cx="323.2" cy="161.4" r="0.37" fill="#888"/>
<circle cx="322.4" cy="164.1" r="0.41" fill="#aaa"/>
<circle cx="317.0" cy="163.9" r="0.54" fill="#888"/>
<circle cx="319.0" cy="160.8" r="0.57" fill="#888"/>
<circle cx="316.8" cy="163.1" r="0.58" fill="#fff"/>
<circle cx="317.8" cy="159.3" r="0.59" fill="#fff"/>
<circle cx="316.7" cy="162.7" r="0.40" fill="#aaa"/>
<circle cx="322.5" cy="162.2" r="0.47" fill="#888"/>
<circle cx="323.6" cy="161.9" r="0.59" fill="#888"/>
<circle cx="323.8" cy="160.7" r="0.39" fill="#888"/>
<circle cx="318.3" cy="160.3" r="0.37" fill="#888"/>
<circle cx="324.4" cy="159.9" r="0.60" fill="#666"/>
<polygon points="361.5,113.0 365.0,110.0 370.0,110.5 374.0,114.0 376.5,118.0 372.0,121.5 367.0,120.5 363.0,118.0" fill="#ababab"/>
<circle cx="368.2" cy="111.3" r="0.58" fill="#888"/>
<circle cx="370.0" cy="113.3" r="0.43" fill="#fff"/>
<circle cx="372.3" cy="121.3" r="0.51" fill="#fff"/>
<circle cx="371.2" cy="121.0" r="0.48" fill="#999"/>
<circle cx="375.3" cy="117.4" r="0.65" fill="#ddd"/>
<circle cx="372.5" cy="118.0" r="0.50" fill="#ddd"/>
<circle cx="373.1" cy="119.7" r="0.55" fill="#888"/>
<circle cx="374.9" cy="117.8" r="0.71" fill="#555"/>
<circle cx="374.0" cy="118.5" r="0.55" fill="#888"/>
<circle cx="371.2" cy="114.1" r="0.55" fill="#666"/>
<circle cx="369.8" cy="114.2" r="0.50" fill="#888"/>
<circle cx="370.9" cy="119.4" r="0.56" fill="#ddd"/>
<circle cx="362.3" cy="112.5" r="0.60" fill="#999"/>
<circle cx="363.9" cy="113.4" r="0.65" fill="#fff"/>
<circle cx="363.6" cy="112.6" r="0.58" fill="#666"/>
<circle cx="364.4" cy="118.3" r="0.41" fill="#555"/>
<circle cx="370.7" cy="119.6" r="0.57" fill="#fff"/>
<circle cx="365.7" cy="117.6" r="0.68" fill="#fff"/>
<circle cx="364.1" cy="118.3" r="0.52" fill="#999"/>
<circle cx="368.1" cy="116.5" r="0.63" fill="#888"/>
<circle cx="368.5" cy="116.2" r="0.58" fill="#fff"/>
<circle cx="375.9" cy="117.1" r="0.69" fill="#555"/>
<circle cx="366.5" cy="117.6" r="0.63" fill="#fff"/>
<circle cx="371.2" cy="113.4" r="0.61" fill="#888"/>
<circle cx="371.0" cy="119.8" r="0.67" fill="#666"/>
<circle cx="368.2" cy="111.0" r="0.63" fill="#ddd"/>
<circle cx="369.8" cy="120.8" r="0.61" fill="#888"/>
<circle cx="370.0" cy="114.6" r="0.49" fill="#555"/>
<circle cx="374.1" cy="117.5" r="0.61" fill="#666"/>
<circle cx="365.3" cy="115.6" r="0.58" fill="#fff"/>
<circle cx="369.6" cy="118.0" r="0.61" fill="#ddd"/>
<circle cx="370.3" cy="110.9" r="0.67" fill="#999"/>
<circle cx="369.0" cy="115.8" r="0.65" fill="#555"/>
<circle cx="368.4" cy="117.9" r="0.47" fill="#fff"/>
<circle cx="365.1" cy="114.3" r="0.68" fill="#555"/>
<circle cx="363.3" cy="111.6" r="0.65" fill="#555"/>
<circle cx="374.6" cy="116.5" r="0.75" fill="#ddd"/>
<circle cx="364.0" cy="118.6" r="0.72" fill="#888"/>
<circle cx="365.3" cy="112.8" r="0.69" fill="#fff"/>
<circle cx="375.7" cy="118.3" r="0.73" fill="#555"/>
<circle cx="366.8" cy="114.1" r="0.72" fill="#888"/>
<circle cx="371.6" cy="112.9" r="0.68" fill="#666"/>
<circle cx="368.1" cy="119.1" r="0.44" fill="#999"/>
<circle cx="369.8" cy="113.3" r="0.67" fill="#ddd"/>
<circle cx="374.0" cy="116.8" r="0.62" fill="#888"/>
<circle cx="371.8" cy="119.3" r="0.41" fill="#999"/>
<circle cx="366.6" cy="111.7" r="0.59" fill="#fff"/>
<circle cx="371.2" cy="116.9" r="0.79" fill="#999"/>
<circle cx="371.9" cy="115.2" r="0.75" fill="#666"/>
<circle cx="366.4" cy="112.5" r="0.64" fill="#666"/>
<circle cx="366.9" cy="115.4" r="0.59" fill="#fff"/>
<circle cx="366.5" cy="115.6" r="0.41" fill="#666"/>
<circle cx="371.6" cy="113.1" r="0.43" fill="#888"/>
<circle cx="370.1" cy="116.7" r="0.80" fill="#666"/>
<circle cx="373.1" cy="120.0" r="0.65" fill="#999"/>
<polygon points="374.0,116.5 380.0,117.5 386.0,121.0 390.5,124.0 388.5,128.5 383.0,129.0 378.0,125.5 375.0,121.5" fill="#ababab"/>
<circle cx="384.5" cy="121.0" r="0.72" fill="#888"/>
<circle cx="376.3" cy="117.4" r="0.70" fill="#888"/>
<circle cx="382.4" cy="124.4" r="0.75" fill="#888"/>
<circle cx="385.6" cy="124.9" r="0.60" fill="#999"/>
<circle cx="388.8" cy="126.6" r="0.46" fill="#888"/>
<circle cx="385.1" cy="121.6" r="0.63" fill="#999"/>
<circle cx="379.0" cy="118.6" r="0.46" fill="#555"/>
<circle cx="383.4" cy="124.7" r="0.43" fill="#888"/>
<circle cx="383.7" cy="120.3" r="0.79" fill="#888"/>
<circle cx="379.9" cy="126.2" r="0.69" fill="#999"/>
<circle cx="379.3" cy="118.7" r="0.62" fill="#888"/>
<circle cx="386.5" cy="124.3" r="0.68" fill="#666"/>
<circle cx="377.6" cy="121.5" r="0.76" fill="#666"/>
<circle cx="378.7" cy="122.8" r="0.48" fill="#555"/>
<circle cx="386.1" cy="128.5" r="0.42" fill="#fff"/>
<circle cx="383.5" cy="125.5" r="0.48" fill="#555"/>
<circle cx="382.9" cy="127.4" r="0.53" fill="#ddd"/>
<circle cx="382.0" cy="124.1" r="0.47" fill="#888"/>
<circle cx="388.2" cy="126.5" r="0.65" fill="#555"/>
<circle cx="379.5" cy="122.7" r="0.56" fill="#fff"/>
<circle cx="384.8" cy="120.4" r="0.65" fill="#999"/>
<circle cx="375.5" cy="118.5" r="0.61" fill="#666"/>
<circle cx="380.0" cy="120.8" r="0.64" fill="#ddd"/>
<circle cx="383.2" cy="124.7" r="0.63" fill="#fff"/>
<circle cx="377.8" cy="124.2" r="0.59" fill="#ddd"/>
<circle cx="384.8" cy="123.4" r="0.58" fill="#ddd"/>
<circle cx="378.6" cy="123.0" r="0.45" fill="#888"/>
<circle cx="384.8" cy="126.2" r="0.46" fill="#888"/>
<circle cx="384.4" cy="121.5" r="0.77" fill="#555"/>
<circle cx="384.0" cy="125.7" r="0.75" fill="#666"/>
<circle cx="388.1" cy="126.2" r="0.41" fill="#fff"/>
<circle cx="384.5" cy="120.8" r="0.58" fill="#999"/>
<circle cx="380.6" cy="127.3" r="0.49" fill="#555"/>
<circle cx="380.2" cy="124.7" r="0.41" fill="#666"/>
<circle cx="378.0" cy="120.9" r="0.70" fill="#888"/>
<circle cx="384.6" cy="120.2" r="0.49" fill="#999"/>
<circle cx="388.2" cy="127.4" r="0.78" fill="#888"/>
<circle cx="376.3" cy="120.3" r="0.53" fill="#555"/>
<circle cx="382.0" cy="127.6" r="0.53" fill="#666"/>
<circle cx="384.1" cy="128.5" r="0.63" fill="#666"/>
<circle cx="386.9" cy="127.3" r="0.57" fill="#666"/>
<circle cx="385.3" cy="126.6" r="0.79" fill="#666"/>
<circle cx="375.6" cy="118.6" r="0.56" fill="#ddd"/>
<circle cx="380.8" cy="124.5" r="0.69" fill="#ddd"/>
<circle cx="387.1" cy="125.1" r="0.45" fill="#555"/>
<circle cx="383.8" cy="123.7" r="0.44" fill="#ddd"/>
<circle cx="376.0" cy="122.6" r="0.61" fill="#666"/>
<circle cx="382.9" cy="124.4" r="0.60" fill="#fff"/>
<circle cx="375.9" cy="120.9" r="0.78" fill="#999"/>
<circle cx="377.7" cy="117.4" r="0.47" fill="#ddd"/>
<circle cx="378.4" cy="117.4" r="0.48" fill="#555"/>
<circle cx="381.5" cy="120.0" r="0.68" fill="#888"/>
<circle cx="385.8" cy="121.5" r="0.62" fill="#888"/>
<circle cx="380.3" cy="118.4" r="0.75" fill="#999"/>
<circle cx="387.3" cy="127.7" r="0.40" fill="#ddd"/>
<polygon points="386.0,124.0 392.0,124.5 396.5,128.0 398.0,133.0 394.5,136.0 389.0,134.5 385.5,130.0" fill="#ababab"/>
<circle cx="393.1" cy="135.1" r="0.68" fill="#888"/>
<circle cx="394.6" cy="135.9" r="0.67" fill="#666"/>
<circle cx="390.6" cy="130.7" r="0.66" fill="#ddd"/>
<circle cx="392.4" cy="127.8" r="0.40" fill="#fff"/>
<circle cx="394.8" cy="134.2" r="0.54" fill="#fff"/>
<circle cx="392.3" cy="128.6" r="0.72" fill="#ddd"/>
<circle cx="396.4" cy="128.3" r="0.56" fill="#555"/>
<circle cx="392.1" cy="131.4" r="0.73" fill="#ddd"/>
<circle cx="393.8" cy="135.1" r="0.50" fill="#888"/>
<circle cx="396.0" cy="134.3" r="0.61" fill="#888"/>
<circle cx="391.5" cy="126.7" r="0.43" fill="#666"/>
<circle cx="395.0" cy="128.4" r="0.61" fill="#666"/>
<circle cx="391.3" cy="131.7" r="0.75" fill="#ddd"/>
<circle cx="386.0" cy="128.6" r="0.45" fill="#999"/>
<circle cx="387.4" cy="127.0" r="0.55" fill="#555"/>
<circle cx="393.8" cy="130.3" r="0.58" fill="#888"/>
<circle cx="386.6" cy="128.7" r="0.68" fill="#999"/>
<circle cx="391.1" cy="129.7" r="0.70" fill="#666"/>
<circle cx="387.4" cy="132.2" r="0.60" fill="#888"/>
<circle cx="393.8" cy="131.5" r="0.54" fill="#fff"/>
<circle cx="388.0" cy="130.8" r="0.64" fill="#555"/>
<circle cx="389.3" cy="130.5" r="0.50" fill="#888"/>
<circle cx="388.8" cy="129.3" r="0.65" fill="#fff"/>
<circle cx="390.8" cy="133.5" r="0.71" fill="#fff"/>
<circle cx="397.0" cy="132.6" r="0.55" fill="#999"/>
<circle cx="394.4" cy="127.5" r="0.57" fill="#999"/>
<circle cx="393.1" cy="127.1" r="0.55" fill="#666"/>
<circle cx="392.7" cy="135.1" r="0.79" fill="#666"/>
<circle cx="396.1" cy="131.0" r="0.67" fill="#555"/>
<circle cx="389.6" cy="124.8" r="0.55" fill="#999"/>
<circle cx="392.1" cy="130.0" r="0.70" fill="#ddd"/>
<circle cx="391.3" cy="129.5" r="0.57" fill="#999"/>
<circle cx="391.4" cy="134.7" r="0.56" fill="#999"/>
<circle cx="388.0" cy="130.5" r="0.52" fill="#ddd"/>
<circle cx="389.6" cy="128.6" r="0.45" fill="#999"/>
<circle cx="388.3" cy="124.9" r="0.44" fill="#555"/>
<circle cx="394.0" cy="132.5" r="0.75" fill="#999"/>
<circle cx="392.4" cy="133.0" r="0.46" fill="#fff"/>
<circle cx="390.6" cy="124.6" r="0.46" fill="#ddd"/>
<circle cx="389.7" cy="130.2" r="0.47" fill="#555"/>
<circle cx="392.2" cy="130.2" r="0.53" fill="#555"/>
<circle cx="392.4" cy="130.1" r="0.67" fill="#999"/>
<circle cx="389.3" cy="127.0" r="0.72" fill="#999"/>
<circle cx="388.0" cy="124.6" r="0.66" fill="#fff"/>
<circle cx="397.2" cy="131.9" r="0.63" fill="#ddd"/>
<circle cx="390.1" cy="133.6" r="0.58" fill="#666"/>
<circle cx="394.3" cy="132.0" r="0.53" fill="#ddd"/>
<circle cx="392.2" cy="128.9" r="0.73" fill="#fff"/>
<circle cx="385.9" cy="126.6" r="0.52" fill="#999"/>
<circle cx="394.4" cy="133.6" r="0.64" fill="#fff"/>
<circle cx="390.6" cy="132.7" r="0.75" fill="#666"/>
<circle cx="386.2" cy="129.2" r="0.45" fill="#ddd"/>
<circle cx="395.7" cy="130.0" r="0.77" fill="#555"/>
<circle cx="392.5" cy="133.6" r="0.49" fill="#999"/>
<circle cx="394.5" cy="133.0" r="0.61" fill="#666"/>
<polygon points="402.0,22.0 408.0,21.5 416.0,25.0 423.0,29.0 425.5,33.0 422.0,35.0 415.0,32.0 408.0,28.0 403.0,25.0" fill="#b4b4b4"/>
<circle cx="418.8" cy="28.5" r="0.38" fill="#bbb"/>
<circle cx="408.9" cy="24.6" r="0.63" fill="#ddd"/>
<circle cx="418.6" cy="31.2" r="0.67" fill="#999"/>
<circle cx="414.4" cy="25.4" r="0.36" fill="#999"/>
<circle cx="420.4" cy="33.5" r="0.42" fill="#555"/>
<circle cx="408.6" cy="25.6" r="0.54" fill="#ddd"/>
<circle cx="404.1" cy="23.4" r="0.62" fill="#999"/>
<circle cx="420.0" cy="33.7" r="0.67" fill="#ddd"/>
<circle cx="412.6" cy="24.8" r="0.48" fill="#fff"/>
<circle cx="421.0" cy="31.3" r="0.38" fill="#bbb"/>
<circle cx="416.0" cy="27.7" r="0.36" fill="#555"/>
<circle cx="415.6" cy="27.1" r="0.40" fill="#fff"/>
<circle cx="415.6" cy="26.3" r="0.60" fill="#999"/>
<circle cx="408.1" cy="22.9" r="0.39" fill="#777"/>
<circle cx="413.7" cy="28.7" r="0.46" fill="#555"/>
<circle cx="403.0" cy="25.0" r="0.45" fill="#777"/>
<circle cx="423.3" cy="31.3" r="0.53" fill="#ddd"/>
<circle cx="420.6" cy="29.2" r="0.61" fill="#fff"/>
<circle cx="404.0" cy="23.8" r="0.70" fill="#999"/>
<circle cx="412.0" cy="29.9" r="0.45" fill="#555"/>
<circle cx="416.0" cy="32.1" r="0.64" fill="#fff"/>
<circle cx="409.9" cy="22.8" r="0.57" fill="#777"/>
<circle cx="418.3" cy="32.5" r="0.38" fill="#999"/>
<circle cx="419.8" cy="29.5" r="0.35" fill="#777"/>
<circle cx="410.1" cy="23.4" r="0.67" fill="#777"/>
<circle cx="418.1" cy="31.1" r="0.70" fill="#555"/>
<circle cx="420.6" cy="28.0" r="0.53" fill="#bbb"/>
<circle cx="409.8" cy="22.4" r="0.57" fill="#ddd"/>
<circle cx="421.9" cy="32.1" r="0.58" fill="#555"/>
<circle cx="420.9" cy="28.1" r="0.52" fill="#fff"/>
<circle cx="409.1" cy="22.2" r="0.64" fill="#bbb"/>
<circle cx="420.9" cy="29.5" r="0.49" fill="#bbb"/>
<circle cx="415.9" cy="30.3" r="0.39" fill="#fff"/>
<circle cx="424.8" cy="32.1" r="0.61" fill="#999"/>
<circle cx="415.8" cy="29.1" r="0.55" fill="#bbb"/>
<circle cx="423.9" cy="33.5" r="0.49" fill="#555"/>
<circle cx="420.4" cy="32.2" r="0.62" fill="#fff"/>
<circle cx="410.1" cy="26.6" r="0.43" fill="#555"/>
<circle cx="417.8" cy="32.2" r="0.56" fill="#fff"/>
<circle cx="421.7" cy="32.2" r="0.46" fill="#555"/>
<circle cx="411.7" cy="25.5" r="0.47" fill="#777"/>
<circle cx="407.0" cy="26.3" r="0.57" fill="#bbb"/>
<circle cx="408.9" cy="22.7" r="0.42" fill="#999"/>
<circle cx="414.6" cy="24.8" r="0.59" fill="#777"/>
<circle cx="406.3" cy="25.2" r="0.48" fill="#777"/>
<polygon points="411.5,33.8 411.5,46.0 413.1,46.0 413.1,33.8" fill="#aaa"/>
<circle cx="411.9" cy="44.7" r="0.46" fill="#777"/>
<circle cx="412.0" cy="44.5" r="0.65" fill="#777"/>
<circle cx="413.0" cy="38.6" r="0.35" fill="#777"/>
<circle cx="411.8" cy="45.3" r="0.55" fill="#777"/>
<circle cx="412.6" cy="42.8" r="0.69" fill="#777"/>
<circle cx="412.7" cy="43.0" r="0.40" fill="#777"/>
<polygon points="413.0,44.0 412.1,45.8 409.8,47.1 406.5,47.6 403.2,47.1 400.9,45.8 400.0,44.0 400.9,42.2 403.2,40.9 406.5,40.4 409.8,40.9 412.1,42.2" fill="#ababab"/>
<circle cx="409.8" cy="42.2" r="0.38" fill="#bbb"/>
<circle cx="408.1" cy="43.6" r="0.48" fill="#999"/>
<circle cx="408.6" cy="44.9" r="0.68" fill="#bbb"/>
<circle cx="408.5" cy="44.0" r="0.69" fill="#fff"/>
<circle cx="408.9" cy="44.4" r="0.46" fill="#bbb"/>
<circle cx="406.7" cy="41.5" r="0.61" fill="#ddd"/>
<circle cx="407.6" cy="44.6" r="0.70" fill="#555"/>
<circle cx="402.3" cy="44.6" r="0.57" fill="#999"/>
<circle cx="403.1" cy="46.0" r="0.50" fill="#555"/>
<circle cx="410.5" cy="45.3" r="0.52" fill="#bbb"/>
<circle cx="411.7" cy="42.7" r="0.52" fill="#ddd"/>
<circle cx="400.6" cy="44.2" r="0.42" fill="#777"/>
<circle cx="404.0" cy="44.1" r="0.46" fill="#fff"/>
<circle cx="405.0" cy="47.4" r="0.42" fill="#fff"/>
<circle cx="404.0" cy="47.2" r="0.57" fill="#777"/>
<circle cx="412.1" cy="43.3" r="0.44" fill="#fff"/>
<circle cx="405.1" cy="43.2" r="0.44" fill="#bbb"/>
<circle cx="405.9" cy="46.4" r="0.41" fill="#fff"/>
<circle cx="403.6" cy="44.3" r="0.55" fill="#fff"/>
<circle cx="408.7" cy="45.8" r="0.49" fill="#999"/>
<circle cx="409.3" cy="43.2" r="0.65" fill="#999"/>
<circle cx="401.6" cy="43.6" r="0.36" fill="#555"/>
<circle cx="410.7" cy="44.5" r="0.56" fill="#999"/>
<circle cx="401.3" cy="44.7" r="0.64" fill="#bbb"/>
<circle cx="409.3" cy="47.1" r="0.58" fill="#777"/>
<circle cx="409.0" cy="46.0" r="0.64" fill="#bbb"/>
<circle cx="410.3" cy="46.4" r="0.49" fill="#bbb"/>
<circle cx="410.5" cy="42.9" r="0.60" fill="#777"/>
<circle cx="401.9" cy="45.7" r="0.58" fill="#bbb"/>
<circle cx="404.4" cy="40.9" r="0.37" fill="#bbb"/>
<circle cx="403.1" cy="43.5" r="0.55" fill="#777"/>
<circle cx="403.6" cy="46.5" r="0.40" fill="#777"/>
<circle cx="408.7" cy="45.8" r="0.39" fill="#ddd"/>
<circle cx="405.0" cy="42.5" r="0.60" fill="#fff"/>
<circle cx="409.1" cy="44.8" r="0.60" fill="#999"/>
<circle cx="410.0" cy="44.8" r="0.45" fill="#ddd"/>
<circle cx="402.8" cy="42.0" r="0.48" fill="#555"/>
<circle cx="407.4" cy="46.8" r="0.48" fill="#555"/>
<circle cx="409.1" cy="40.9" r="0.43" fill="#999"/>
<circle cx="406.0" cy="45.9" r="0.45" fill="#bbb"/>
<polygon points="426.0,58.5 432.3,54.6 440.0,57.0 443.0,62.3 439.2,69.2 435.4,77.0 425.4,75.4 423.8,69.2" fill="#bdbdbd"/>
<circle cx="424.9" cy="64.6" r="0.64" fill="#fff"/>
<circle cx="424.4" cy="66.6" r="0.44" fill="#fff"/>
<circle cx="428.1" cy="68.7" r="0.79" fill="#999"/>
<circle cx="434.0" cy="59.8" r="0.72" fill="#fff"/>
<circle cx="427.8" cy="73.4" r="0.61" fill="#fff"/>
<circle cx="431.9" cy="56.0" r="0.51" fill="#eee"/>
<circle cx="431.3" cy="76.0" r="0.49" fill="#fff"/>
<circle cx="425.2" cy="65.3" r="0.57" fill="#777"/>
<circle cx="435.7" cy="58.9" r="0.48" fill="#fff"/>
<circle cx="431.5" cy="60.9" r="0.43" fill="#777"/>
<circle cx="427.7" cy="71.5" r="0.70" fill="#999"/>
<circle cx="437.7" cy="70.7" r="0.54" fill="#555"/>
<circle cx="431.8" cy="73.3" r="0.69" fill="#eee"/>
<circle cx="435.9" cy="60.5" r="0.65" fill="#999"/>
<circle cx="434.7" cy="61.7" r="0.52" fill="#999"/>
<circle cx="430.6" cy="74.7" r="0.58" fill="#eee"/>
<circle cx="426.8" cy="72.0" r="0.59" fill="#fff"/>
<circle cx="425.4" cy="62.2" r="0.59" fill="#999"/>
<circle cx="439.6" cy="57.5" r="0.61" fill="#555"/>
<circle cx="428.6" cy="63.3" r="0.50" fill="#999"/>
<circle cx="437.9" cy="63.2" r="0.45" fill="#fff"/>
<circle cx="435.0" cy="63.1" r="0.73" fill="#555"/>
<circle cx="438.8" cy="59.2" r="0.61" fill="#fff"/>
<circle cx="435.8" cy="74.4" r="0.71" fill="#fff"/>
<circle cx="427.7" cy="62.5" r="0.44" fill="#555"/>
<circle cx="432.2" cy="67.4" r="0.67" fill="#eee"/>
<circle cx="434.7" cy="70.7" r="0.47" fill="#fff"/>
<circle cx="436.3" cy="73.9" r="0.69" fill="#777"/>
<circle cx="432.8" cy="74.3" r="0.46" fill="#fff"/>
<circle cx="431.3" cy="72.3" r="0.65" fill="#777"/>
<circle cx="436.1" cy="75.2" r="0.42" fill="#999"/>
<circle cx="432.8" cy="65.3" r="0.70" fill="#555"/>
<circle cx="426.6" cy="66.5" r="0.60" fill="#fff"/>
<circle cx="425.8" cy="72.2" r="0.77" fill="#fff"/>
<circle cx="434.5" cy="73.0" r="0.62" fill="#fff"/>
<circle cx="435.6" cy="72.3" r="0.43" fill="#fff"/>
<circle cx="424.8" cy="66.8" r="0.58" fill="#999"/>
<circle cx="436.7" cy="67.1" r="0.41" fill="#777"/>
<circle cx="432.6" cy="57.3" r="0.69" fill="#eee"/>
<circle cx="435.6" cy="56.5" r="0.54" fill="#fff"/>
<circle cx="425.6" cy="71.0" r="0.44" fill="#555"/>
<circle cx="429.1" cy="61.5" r="0.46" fill="#999"/>
<circle cx="435.4" cy="76.5" r="0.40" fill="#777"/>
<circle cx="437.1" cy="68.0" r="0.55" fill="#fff"/>
<circle cx="434.8" cy="59.3" r="0.70" fill="#eee"/>
<circle cx="424.9" cy="70.9" r="0.67" fill="#eee"/>
<circle cx="440.1" cy="64.2" r="0.47" fill="#555"/>
<circle cx="437.4" cy="60.3" r="0.74" fill="#999"/>
<circle cx="426.9" cy="58.2" r="0.66" fill="#eee"/>
<circle cx="432.9" cy="68.6" r="0.51" fill="#999"/>
<circle cx="428.6" cy="63.8" r="0.54" fill="#555"/>
<circle cx="434.2" cy="62.6" r="0.40" fill="#999"/>
<circle cx="438.6" cy="59.9" r="0.72" fill="#999"/>
<circle cx="434.0" cy="56.9" r="0.57" fill="#999"/>
<circle cx="430.3" cy="56.0" r="0.79" fill="#555"/>
<circle cx="426.9" cy="66.5" r="0.67" fill="#eee"/>
<circle cx="428.5" cy="75.1" r="0.68" fill="#fff"/>
<circle cx="427.9" cy="61.0" r="0.69" fill="#555"/>
<circle cx="432.1" cy="57.3" r="0.64" fill="#777"/>
<circle cx="435.6" cy="58.3" r="0.51" fill="#eee"/>
<circle cx="431.3" cy="62.3" r="0.44" fill="#555"/>
<circle cx="435.7" cy="69.3" r="0.64" fill="#eee"/>
<circle cx="436.4" cy="68.0" r="0.56" fill="#eee"/>
<circle cx="425.3" cy="70.9" r="0.41" fill="#fff"/>
<circle cx="430.7" cy="57.8" r="0.69" fill="#555"/>
<circle cx="436.2" cy="66.0" r="0.77" fill="#999"/>
<circle cx="432.4" cy="74.8" r="0.52" fill="#999"/>
<circle cx="431.7" cy="70.0" r="0.80" fill="#fff"/>
<circle cx="432.6" cy="61.8" r="0.41" fill="#777"/>
<circle cx="439.7" cy="59.7" r="0.72" fill="#777"/>
<circle cx="436.7" cy="60.8" r="0.74" fill="#555"/>
<circle cx="438.8" cy="69.4" r="0.66" fill="#999"/>
<circle cx="427.3" cy="57.8" r="0.73" fill="#555"/>
<circle cx="425.5" cy="67.7" r="0.43" fill="#555"/>
<circle cx="430.8" cy="70.8" r="0.55" fill="#777"/>
<circle cx="438.0" cy="62.9" r="0.61" fill="#777"/>
<circle cx="425.9" cy="60.2" r="0.51" fill="#777"/>
<circle cx="431.1" cy="71.7" r="0.66" fill="#777"/>
<circle cx="440.2" cy="60.0" r="0.51" fill="#fff"/>
<circle cx="431.0" cy="62.9" r="0.41" fill="#999"/>
<circle cx="432.2" cy="57.2" r="0.62" fill="#fff"/>
<circle cx="433.2" cy="63.7" r="0.59" fill="#fff"/>
<circle cx="427.1" cy="59.8" r="0.42" fill="#fff"/>
<circle cx="427.5" cy="60.6" r="0.59" fill="#fff"/>
<circle cx="438.1" cy="67.2" r="0.44" fill="#fff"/>
<circle cx="428.4" cy="58.4" r="0.48" fill="#999"/>
<circle cx="441.5" cy="64.9" r="0.45" fill="#eee"/>
<circle cx="439.3" cy="68.7" r="0.48" fill="#555"/>
<circle cx="436.5" cy="62.7" r="0.68" fill="#555"/>
<circle cx="432.9" cy="60.4" r="0.40" fill="#fff"/>
<circle cx="436.3" cy="66.1" r="0.66" fill="#555"/>
<circle cx="436.2" cy="71.9" r="0.64" fill="#eee"/>
<circle cx="436.3" cy="57.8" r="0.70" fill="#999"/>
<circle cx="440.3" cy="62.8" r="0.47" fill="#eee"/>
<circle cx="428.2" cy="68.0" r="0.43" fill="#eee"/>
<circle cx="432.2" cy="57.7" r="0.52" fill="#777"/>
<circle cx="429.8" cy="59.1" r="0.56" fill="#555"/>
<circle cx="433.0" cy="66.1" r="0.60" fill="#eee"/>
<circle cx="428.0" cy="73.3" r="0.52" fill="#777"/>
<circle cx="438.9" cy="60.7" r="0.41" fill="#999"/>
<circle cx="427.2" cy="63.9" r="0.41" fill="#eee"/>
<circle cx="431.0" cy="58.2" r="0.46" fill="#555"/>
<circle cx="439.4" cy="68.2" r="0.62" fill="#fff"/>
<circle cx="437.5" cy="57.7" r="0.62" fill="#777"/>
<circle cx="429.1" cy="63.9" r="0.80" fill="#777"/>
<circle cx="426.4" cy="61.8" r="0.47" fill="#555"/>
<circle cx="431.9" cy="56.4" r="0.72" fill="#fff"/>
<circle cx="428.7" cy="67.4" r="0.74" fill="#777"/>
<circle cx="441.9" cy="63.7" r="0.57" fill="#555"/>
<circle cx="438.3" cy="58.5" r="0.57" fill="#777"/>
<circle cx="434.0" cy="73.6" r="0.66" fill="#eee"/>
<circle cx="433.6" cy="57.2" r="0.60" fill="#777"/>
<circle cx="434.0" cy="69.8" r="0.76" fill="#999"/>
<circle cx="425.3" cy="74.7" r="0.55" fill="#fff"/>
<circle cx="436.2" cy="63.8" r="0.50" fill="#fff"/>
<circle cx="424.9" cy="69.9" r="0.67" fill="#777"/>
<circle cx="432.9" cy="69.8" r="0.78" fill="#eee"/>
<circle cx="440.9" cy="65.0" r="0.71" fill="#999"/>
<circle cx="428.3" cy="64.2" r="0.62" fill="#777"/>
<circle cx="431.5" cy="57.6" r="0.49" fill="#eee"/>
<circle cx="437.9" cy="62.7" r="0.60" fill="#eee"/>
<circle cx="436.1" cy="74.3" r="0.41" fill="#555"/>
<circle cx="426.4" cy="63.7" r="0.66" fill="#fff"/>
<circle cx="432.8" cy="64.8" r="0.63" fill="#999"/>
<circle cx="430.6" cy="70.4" r="0.53" fill="#fff"/>
<circle cx="436.8" cy="72.1" r="0.55" fill="#fff"/>
<circle cx="436.0" cy="70.4" r="0.55" fill="#777"/>
<circle cx="432.5" cy="69.5" r="0.42" fill="#fff"/>
<circle cx="431.7" cy="67.2" r="0.43" fill="#555"/>
<circle cx="428.2" cy="60.5" r="0.71" fill="#eee"/>
<circle cx="427.6" cy="65.1" r="0.61" fill="#555"/>
<circle cx="429.9" cy="63.9" r="0.75" fill="#fff"/>
<circle cx="430.2" cy="75.4" r="0.46" fill="#999"/>
<circle cx="425.6" cy="68.6" r="0.79" fill="#eee"/>
<circle cx="426.3" cy="74.0" r="0.54" fill="#999"/>
<circle cx="433.2" cy="58.8" r="0.72" fill="#fff"/>
<circle cx="431.9" cy="61.2" r="0.49" fill="#555"/>
<circle cx="425.6" cy="67.7" r="0.72" fill="#777"/>
<circle cx="432.5" cy="65.1" r="0.65" fill="#777"/>
<circle cx="439.6" cy="65.2" r="0.46" fill="#fff"/>
<circle cx="427.5" cy="67.6" r="0.74" fill="#555"/>
<circle cx="432.6" cy="71.4" r="0.57" fill="#fff"/>
<circle cx="434.0" cy="70.8" r="0.49" fill="#555"/>
<circle cx="427.9" cy="70.7" r="0.65" fill="#fff"/>
<circle cx="441.1" cy="59.2" r="0.80" fill="#999"/>
<circle cx="425.0" cy="65.0" r="0.73" fill="#999"/>
<circle cx="439.1" cy="61.5" r="0.61" fill="#999"/>
<circle cx="429.7" cy="72.0" r="0.44" fill="#999"/>
<circle cx="424.7" cy="66.1" r="0.47" fill="#777"/>
<circle cx="435.9" cy="60.1" r="0.48" fill="#555"/>
<polygon points="384.0,65.3 390.9,71.5 392.1,70.1 385.2,63.9" fill="#999"/>
<circle cx="388.2" cy="66.7" r="0.54" fill="#666"/>
<circle cx="386.6" cy="67.5" r="0.62" fill="#666"/>
<circle cx="387.0" cy="67.3" r="0.57" fill="#666"/>
<circle cx="387.8" cy="68.6" r="0.58" fill="#666"/>
<circle cx="389.8" cy="69.5" r="0.45" fill="#666"/>
<circle cx="384.9" cy="64.5" r="0.64" fill="#666"/>
<polygon points="449.7,91.7 449.3,93.0 448.4,94.0 447.0,94.3 445.6,94.0 444.7,93.0 444.3,91.7 444.7,90.4 445.6,89.4 447.0,89.1 448.4,89.4 449.3,90.4" fill="#aaa"/>
<circle cx="447.6" cy="91.2" r="0.41" fill="#777"/>
<circle cx="448.4" cy="91.3" r="0.48" fill="#999"/>
<circle cx="449.1" cy="91.5" r="0.38" fill="#777"/>
<circle cx="448.2" cy="91.1" r="0.68" fill="#777"/>
<circle cx="447.6" cy="90.6" r="0.49" fill="#999"/>
<circle cx="445.4" cy="93.2" r="0.67" fill="#777"/>
<circle cx="447.0" cy="93.6" r="0.63" fill="#999"/>
<circle cx="444.4" cy="91.8" r="0.69" fill="#777"/>
<circle cx="447.6" cy="90.7" r="0.59" fill="#999"/>
<circle cx="447.9" cy="89.4" r="0.65" fill="#777"/>
<polygon points="432.7,128.5 432.1,129.8 430.6,130.8 428.5,131.1 426.4,130.8 424.9,129.8 424.3,128.5 424.9,127.2 426.4,126.2 428.5,125.9 430.6,126.2 432.1,127.2" fill="#aaa"/>
<circle cx="430.7" cy="129.1" r="0.68" fill="#777"/>
<circle cx="427.0" cy="130.3" r="0.68" fill="#999"/>
<circle cx="426.8" cy="129.1" r="0.48" fill="#999"/>
<circle cx="425.2" cy="127.1" r="0.49" fill="#bbb"/>
<circle cx="429.6" cy="130.5" r="0.64" fill="#777"/>
<circle cx="429.7" cy="126.2" r="0.41" fill="#bbb"/>
<circle cx="425.6" cy="127.5" r="0.58" fill="#bbb"/>
<circle cx="427.5" cy="130.3" r="0.43" fill="#777"/>
<circle cx="430.3" cy="129.4" r="0.47" fill="#777"/>
<circle cx="430.0" cy="129.3" r="0.63" fill="#777"/>
<circle cx="432.2" cy="128.3" r="0.62" fill="#999"/>
<circle cx="431.6" cy="127.0" r="0.48" fill="#999"/>
<circle cx="429.5" cy="128.5" r="0.42" fill="#777"/>
<circle cx="428.2" cy="128.0" r="0.68" fill="#999"/>
<ellipse cx="434" cy="126" rx="2.2" ry="1.6" fill="#e6b49a"/>
<ellipse cx="388.3" cy="97.3" rx="6" ry="3.8" fill="#eba68c"/>
<circle cx="386.1" cy="97.8" r="0.51" fill="#f5d0c0"/>
<circle cx="392.0" cy="98.4" r="0.61" fill="#d89078"/>
<circle cx="386.5" cy="99.5" r="0.56" fill="#f5d0c0"/>
<circle cx="391.3" cy="97.1" r="0.51" fill="#d89078"/>
<circle cx="385.3" cy="95.3" r="0.48" fill="#f5d0c0"/>
<circle cx="383.3" cy="97.5" r="0.36" fill="#d89078"/>
<circle cx="384.8" cy="95.7" r="0.63" fill="#f5d0c0"/>
<circle cx="386.6" cy="95.3" r="0.56" fill="#f5d0c0"/>
<circle cx="383.6" cy="96.2" r="0.50" fill="#f5d0c0"/>
<circle cx="386.8" cy="98.3" r="0.42" fill="#d89078"/>
<circle cx="386.0" cy="96.0" r="0.69" fill="#f5d0c0"/>
<circle cx="387.9" cy="98.5" r="0.58" fill="#f0c0a8"/>
<circle cx="391.0" cy="95.1" r="0.54" fill="#f5d0c0"/>
<circle cx="390.6" cy="99.2" r="0.37" fill="#d89078"/>
<ellipse cx="389.2" cy="97.7" rx="9.6" ry="8.1" fill="none" stroke="#62a846" stroke-width="2.0"/>
<polygon points="404.2,111.2 403.7,112.6 402.4,113.6 400.6,114.0 398.8,113.6 397.5,112.6 397.0,111.2 397.5,109.8 398.8,108.8 400.6,108.4 402.4,108.8 403.7,109.8" fill="#aeb3a0"/>
<circle cx="397.4" cy="111.2" r="0.65" fill="#777"/>
<circle cx="402.1" cy="112.4" r="0.53" fill="#a0a890"/>
<circle cx="403.7" cy="111.5" r="0.40" fill="#a0a890"/>
<circle cx="400.2" cy="108.6" r="0.56" fill="#a0a890"/>
<circle cx="398.9" cy="109.9" r="0.43" fill="#ccc"/>
<circle cx="401.5" cy="108.7" r="0.63" fill="#8a9a78"/>
<circle cx="402.6" cy="111.4" r="0.53" fill="#a0a890"/>
<circle cx="398.3" cy="111.8" r="0.69" fill="#a0a890"/>
<circle cx="402.2" cy="109.0" r="0.60" fill="#ccc"/>
<circle cx="402.1" cy="109.9" r="0.67" fill="#ccc"/>
<circle cx="400.2" cy="108.9" r="0.66" fill="#8a9a78"/>
<circle cx="401.0" cy="110.7" r="0.51" fill="#778866"/>
<circle cx="399.4" cy="112.7" r="0.70" fill="#a0a890"/>
<circle cx="398.6" cy="113.3" r="0.57" fill="#778866"/>
<circle cx="399.2" cy="109.3" r="0.51" fill="#a0a890"/>
<circle cx="398.0" cy="111.7" r="0.53" fill="#8a9a78"/>
<circle cx="398.3" cy="111.1" r="0.62" fill="#ccc"/>
<circle cx="401.3" cy="111.0" r="0.51" fill="#778866"/>
<ellipse cx="401.2" cy="111.2" rx="9.6" ry="7.9" fill="none" stroke="#1c1c6a" stroke-width="2.0"/>
<text x="336.0" y="42.0" font-size="3.2" fill="#555">24</text>
<text x="352.0" y="82.0" font-size="3.2" fill="#555">14</text>
<text x="319.0" y="88.0" font-size="3.2" fill="#555">19</text>
<text x="303.0" y="98.0" font-size="3.2" fill="#555">12</text>
<text x="331.0" y="131.0" font-size="3.2" fill="#555">15</text>
<text x="385.0" y="86.0" font-size="3.2" fill="#555">24</text>
<text x="409.0" y="24.0" font-size="3.2" fill="#555">21</text>
<text x="421.0" y="42.0" font-size="3.2" fill="#555">25</text>
<text x="390.0" y="64.0" font-size="3.2" fill="#555">22</text>
<text x="449.0" y="89.0" font-size="3.2" fill="#555">10</text>
<text x="436.0" y="123.0" font-size="3.2" fill="#555">5</text>
<text x="444.7" y="14.3" font-size="7.6" fill="#333">Data source</text>
<rect x="444" y="21" width="5.2" height="5.2" fill="#b9bedf" stroke="#8a8aa0" stroke-width="0.6"/>
<text x="452.5" y="26.8" font-size="7.6" fill="#333">Human Liver cells</text>
<rect x="444" y="33.9" width="5.2" height="5.2" fill="#e2bca4" stroke="#a09080" stroke-width="0.6"/>
<text x="452.5" y="39.0" font-size="7.6" fill="#333">Subset of Coronary</text>
<text x="452.5" y="47.7" font-size="7.6" fill="#333">Artery cells</text>
<text x="444.7" y="138.7" font-size="7.6" fill="#333">HLEC subtypes:</text>
<circle cx="446.2" cy="147.9" r="2.0" fill="none" stroke="#1e1e6e" stroke-width="1.3"/>
<text x="452.2" y="150.6" font-size="7.8" fill="#333">CV HLEC</text>
<circle cx="446.2" cy="160.7" r="2.0" fill="none" stroke="#6aaa48" stroke-width="1.2"/>
<text x="452.2" y="163.3" font-size="7.8" fill="#333">Periportal HLEC</text>
<path d="M94.5 237.5V409.5H477.7" fill="none" stroke="#1e1e1e" stroke-width="1.15"/>
<path d="M91 401.4H94.5" stroke="#2a2a2a" stroke-width="1"/>
<text x="88.3" y="404.3" font-size="8.2" fill="#333" text-anchor="end" letter-spacing="0.45">0</text>
<path d="M91 346.7H94.5" stroke="#2a2a2a" stroke-width="1"/>
<text x="88.3" y="349.6" font-size="8.2" fill="#333" text-anchor="end" letter-spacing="0.45">100</text>
<path d="M91 292.0H94.5" stroke="#2a2a2a" stroke-width="1"/>
<text x="88.3" y="294.9" font-size="8.2" fill="#333" text-anchor="end" letter-spacing="0.45">200</text>
<path d="M118.4 409.5V412.6" stroke="#2a2a2a" stroke-width="1"/>
<text x="118.4" y="424" font-size="8.2" fill="#333" text-anchor="middle" letter-spacing="0.45">−30</text>
<path d="M188.8 409.5V412.6" stroke="#2a2a2a" stroke-width="1"/>
<text x="188.8" y="424" font-size="8.2" fill="#333" text-anchor="middle" letter-spacing="0.45">−20</text>
<path d="M259.2 409.5V412.6" stroke="#2a2a2a" stroke-width="1"/>
<text x="259.2" y="424" font-size="8.2" fill="#333" text-anchor="middle" letter-spacing="0.45">−10</text>
<path d="M329.6 409.5V412.6" stroke="#2a2a2a" stroke-width="1"/>
<text x="329.6" y="424" font-size="8.2" fill="#333" text-anchor="middle" letter-spacing="0.45">0</text>
<path d="M400.0 409.5V412.6" stroke="#2a2a2a" stroke-width="1"/>
<text x="400.0" y="424" font-size="8.2" fill="#333" text-anchor="middle" letter-spacing="0.45">10</text>
<path d="M470.4 409.5V412.6" stroke="#2a2a2a" stroke-width="1"/>
<text x="470.4" y="424" font-size="8.2" fill="#333" text-anchor="middle" letter-spacing="0.45">20</text>
<text transform="translate(286.9,437.8) scale(0.64,1)" font-size="11.5" fill="#1a1a1a" stroke="#1a1a1a" stroke-width="0.3" text-anchor="middle">Log<tspan font-size="8" dy="2.4">2</tspan><tspan dy="-2.4"> fold change</tspan></text>
<text transform="translate(65,324.7) rotate(-90) scale(0.654,1)" font-size="10.5" fill="#1a1a1a" stroke="#1a1a1a" stroke-width="0.25" text-anchor="middle">−Log<tspan font-size="7" dy="2.2">10</tspan><tspan dy="-2.2"> P</tspan></text>
<circle cx="170.8" cy="228.5" r="4.4" fill="#a6a6a6"/>
<circle cx="211" cy="228.5" r="4.4" fill="#91c591"/>
<circle cx="268.7" cy="228.5" r="4.4" fill="#a0b4f0"/>
<circle cx="323" cy="228.5" r="4.4" fill="#f67f7f"/>
<text x="178.6" y="231.5" font-size="8.2" fill="#333">NS</text>
<text x="218" y="231.5" font-size="8.2" fill="#333">Log<tspan font-size="5.8" dy="2">2</tspan><tspan dy="-2"> FC</tspan></text>
<text x="277" y="231.5" font-size="8.2" fill="#333"><tspan font-style="italic">P</tspan>-value</text>
<text x="330" y="231.5" font-size="8.2" fill="#333"><tspan font-style="italic">P</tspan> − value and log<tspan font-size="5.8" dy="2">2</tspan><tspan dy="-2"> FC</tspan></text>
<path d="M322.7 242.3V409M336.9 242.3V409M95 398.9H477.7" stroke="#777" stroke-width="0.75" stroke-dasharray="2.6 2"/>
<polygon points="283.0,398.8 287.0,390.0 291.0,380.0 296.0,371.0 301.0,366.0 305.5,363.5 311.0,369.0 317.0,377.0 322.6,386.0 322.6,398.8" fill="#e6280c"/>
<polygon points="336.8,398.8 336.8,378.0 339.0,371.0 344.0,368.0 350.0,368.5 356.0,372.0 362.0,378.0 367.0,386.0 371.0,395.0 373.0,398.8" fill="#e6280c"/>
<path d="M359.8 365.7h0M308.9 389.9h0M298.5 389.0h0M376.0 337.8h0M371.7 386.4h0M292.4 374.0h0M386.2 394.7h0M309.0 366.9h0M385.8 382.3h0M367.5 354.5h0M391.4 397.0h0M364.5 387.7h0M376.6 384.5h0M356.2 341.8h0M296.5 366.8h0M292.9 391.2h0M269.0 375.8h0M283.9 372.8h0M363.1 380.7h0M300.5 365.8h0M312.2 375.3h0M350.9 376.4h0M344.3 373.4h0M286.5 394.7h0M284.9 396.3h0M354.8 395.4h0M356.7 341.0h0M375.9 398.0h0M286.2 367.2h0M350.5 379.6h0M288.5 372.6h0M296.8 363.7h0M290.4 326.8h0M295.0 391.9h0M351.8 378.0h0M371.5 381.2h0M354.3 378.4h0M381.5 358.5h0M360.4 378.1h0M367.2 393.3h0M275.1 381.9h0M383.1 392.6h0M289.2 375.2h0M301.1 389.2h0M287.5 390.7h0M274.7 398.4h0M274.0 396.4h0M411.9 384.0h0M290.2 386.7h0M352.8 372.0h0M297.6 366.9h0M355.1 381.3h0M292.0 358.3h0M291.0 379.3h0M358.5 369.2h0M345.9 382.1h0M371.2 387.4h0M351.4 374.3h0M347.4 377.6h0M290.2 385.6h0M274.3 373.4h0M343.5 358.1h0M349.4 386.4h0M349.3 377.1h0M286.9 396.8h0M298.2 389.7h0M288.7 394.3h0M380.9 351.9h0M293.6 373.8h0M293.0 370.2h0M375.3 381.7h0M372.0 372.0h0M373.2 354.3h0M376.8 374.2h0M347.9 376.8h0M296.0 379.9h0M285.1 387.6h0M272.3 348.1h0M256.0 370.7h0M382.2 386.7h0M350.4 366.4h0M371.5 376.3h0M398.7 374.5h0M340.0 383.1h0M372.5 365.3h0M282.2 382.1h0M281.0 340.8h0M390.5 380.8h0M377.4 389.9h0M346.5 366.7h0M369.9 377.5h0M378.6 393.5h0M361.4 394.9h0M348.2 379.6h0M338.1 380.0h0M293.9 377.0h0M348.5 373.0h0M346.3 386.2h0M306.4 376.9h0M283.3 376.8h0M377.0 380.8h0M339.6 365.3h0M353.1 361.8h0M291.7 371.7h0M284.1 374.1h0M298.4 354.4h0M349.0 367.2h0M303.0 376.1h0M349.5 367.3h0M280.3 377.6h0M272.5 383.2h0M300.8 380.8h0M391.5 374.5h0M379.3 351.6h0M286.2 382.9h0M270.6 374.4h0M359.3 345.8h0M293.2 383.3h0M272.5 393.6h0M306.8 382.5h0M292.4 358.2h0M288.0 396.6h0M291.0 314.7h0M294.9 373.0h0M394.3 398.7h0M412.1 381.6h0M348.4 393.0h0M282.3 371.8h0M354.2 383.9h0M349.9 376.3h0M274.6 367.7h0M295.9 378.2h0M297.3 385.4h0M283.7 356.7h0M259.7 376.6h0M278.3 364.5h0M280.5 379.6h0M351.0 392.8h0M296.6 309.0h0M382.4 363.1h0M298.0 330.4h0M361.1 389.6h0M271.2 388.5h0M342.2 370.6h0M283.5 334.6h0M280.7 391.4h0M382.1 373.3h0M351.6 396.3h0M314.7 375.0h0M353.9 386.2h0M363.5 321.1h0M364.8 365.4h0M289.7 362.7h0M346.1 361.4h0M264.2 375.9h0M359.7 382.4h0M347.2 343.2h0M365.9 387.9h0M375.5 391.8h0M368.4 396.9h0M252.0 353.5h0M370.0 303.2h0M371.5 388.9h0M385.9 378.0h0M279.4 371.8h0M357.8 386.3h0M259.9 379.1h0M352.0 393.2h0M310.1 391.3h0M340.2 367.5h0M383.4 390.2h0M278.6 388.4h0M269.6 393.2h0M372.6 332.8h0M365.4 391.3h0M268.7 358.4h0M296.6 380.6h0M318.6 381.2h0M359.4 328.7h0M296.6 380.1h0M343.9 361.7h0M358.1 370.8h0M406.3 379.2h0M380.5 367.2h0M276.8 388.1h0M298.5 322.3h0M364.3 365.9h0M350.3 377.6h0M293.1 381.5h0M371.1 383.0h0M367.1 341.3h0M278.9 385.9h0M292.3 376.8h0M358.6 368.7h0M279.2 391.2h0M291.9 369.8h0M289.3 334.5h0M350.0 364.9h0M354.0 355.7h0M301.4 331.9h0M379.5 382.8h0M293.7 345.0h0M396.9 388.6h0M409.1 393.2h0M393.4 371.9h0M278.4 388.1h0M349.9 358.9h0M307.3 382.9h0M372.6 388.0h0M280.5 382.6h0M265.8 391.0h0M270.0 394.0h0M368.7 381.9h0M286.0 387.6h0M353.2 378.6h0M272.3 382.5h0M295.8 394.1h0M309.5 390.2h0M362.9 368.9h0M300.4 375.6h0M340.1 377.8h0M280.0 383.6h0M312.8 376.4h0M353.3 376.5h0M371.2 384.9h0M311.2 375.7h0M369.0 358.8h0M367.5 376.1h0M347.0 369.7h0M356.3 375.4h0M351.3 373.5h0M374.0 375.4h0M348.7 340.0h0M366.0 371.0h0" stroke="#ea2420" stroke-opacity="0.55" stroke-width="2.9" stroke-linecap="round"/>
<path d="M365.9 387.8h0M298.0 320.0h0M343.9 377.0h0M391.8 377.3h0M270.5 329.4h0M357.6 374.5h0M285.1 387.3h0M276.5 382.1h0M306.6 368.0h0M344.5 366.6h0M350.3 368.8h0M269.1 378.7h0M400.9 385.7h0M351.1 356.9h0M349.6 370.2h0M289.3 323.4h0M353.8 366.1h0M281.8 384.9h0M368.0 381.5h0M369.6 397.0h0M339.2 366.4h0M303.8 387.6h0M339.5 381.3h0M394.1 389.7h0M354.4 368.0h0M360.6 356.6h0M298.0 398.5h0M349.9 365.9h0M350.7 368.4h0M350.5 359.6h0M293.0 370.7h0M365.0 373.2h0M341.7 376.9h0M386.2 384.7h0M294.2 377.0h0M364.7 336.5h0M357.9 393.9h0M261.1 380.7h0M363.4 381.1h0M363.8 369.9h0M273.7 355.4h0M360.5 372.5h0M284.5 378.5h0M356.9 375.9h0M388.1 334.7h0M339.4 369.9h0M290.0 374.8h0M277.3 335.4h0M299.1 382.6h0M289.1 377.1h0M280.1 347.1h0M274.7 386.8h0M358.1 357.7h0M262.7 372.1h0M301.2 360.8h0M345.8 382.6h0M284.8 371.2h0M360.9 355.2h0M398.4 385.2h0M314.3 382.5h0M347.4 327.2h0M361.4 358.4h0M285.2 360.1h0M300.7 390.0h0M358.6 352.3h0M344.4 376.1h0M280.1 369.3h0M349.9 370.8h0M341.9 394.3h0M282.1 385.6h0M350.4 389.3h0M298.3 382.2h0M359.7 311.2h0M284.5 378.1h0M285.9 383.1h0M352.3 364.3h0M360.8 396.8h0M359.4 360.2h0M364.7 366.2h0M375.1 391.2h0M362.4 366.3h0M359.6 369.6h0M359.4 367.4h0M292.0 365.2h0M289.7 379.0h0M279.6 367.4h0M338.8 385.4h0M282.2 363.3h0M365.3 336.9h0M373.8 396.5h0M348.5 366.8h0M288.7 369.3h0M383.7 391.2h0M284.0 363.0h0M384.5 377.9h0M387.1 377.5h0M359.1 397.6h0M299.2 373.3h0M288.9 387.2h0M342.4 370.2h0M281.2 370.8h0M364.1 376.5h0M285.8 372.6h0M311.4 395.4h0M292.0 379.5h0M364.0 316.6h0M271.7 368.7h0M291.7 363.7h0M309.6 375.9h0M281.5 383.5h0M349.6 363.6h0M281.6 342.0h0M297.5 376.3h0M368.9 376.2h0M302.9 381.7h0M295.6 366.0h0M268.2 377.5h0M408.5 372.0h0M373.3 322.2h0M339.8 370.2h0M379.6 378.3h0M366.0 379.3h0M391.7 393.0h0M294.1 396.5h0M409.2 384.1h0M350.1 386.2h0M367.6 388.1h0M246.5 379.9h0M356.6 378.9h0M367.9 378.3h0M366.9 393.2h0M354.9 385.8h0M301.5 392.0h0M267.6 376.6h0M299.1 369.1h0M354.2 369.0h0M349.3 341.3h0M275.5 387.8h0M351.3 342.0h0M360.0 377.5h0M360.5 363.9h0M298.8 376.6h0M275.3 385.1h0M279.4 394.6h0M345.8 369.3h0M299.0 381.3h0M375.6 394.2h0M314.3 374.0h0M275.3 387.2h0M279.1 382.0h0M280.4 368.9h0M292.7 397.5h0M298.8 367.8h0M269.1 379.8h0M373.5 377.8h0M341.3 383.6h0M361.8 385.3h0M282.5 355.9h0M346.0 362.1h0M353.1 358.5h0M299.4 367.5h0M293.2 380.8h0M356.4 391.3h0M359.6 369.7h0M306.4 387.5h0M274.8 387.4h0M293.0 378.3h0M292.3 397.4h0M345.1 357.0h0M346.1 363.3h0M284.7 369.7h0M387.7 371.6h0M370.9 386.3h0M372.3 390.5h0M365.7 365.1h0M388.4 384.3h0M372.3 382.4h0M400.0 373.4h0M258.9 385.6h0M342.7 341.7h0M356.5 372.1h0M340.3 365.0h0M273.4 386.0h0M279.9 393.6h0M376.2 367.5h0M279.7 391.2h0M280.3 374.7h0M366.3 312.8h0M347.3 370.3h0M288.4 342.7h0M340.3 365.8h0M339.2 375.1h0M356.5 374.3h0M398.6 388.8h0M385.6 352.4h0M348.4 362.1h0M383.7 374.2h0M300.4 387.4h0M356.4 374.7h0M343.5 369.6h0M262.3 393.3h0M261.7 395.4h0M287.7 378.6h0M347.8 366.4h0M281.3 380.5h0M305.8 372.1h0M339.1 363.8h0M343.0 381.1h0M382.0 382.0h0M352.6 385.6h0M270.2 386.0h0M313.1 380.4h0M256.6 389.1h0M368.9 390.9h0M348.4 389.7h0M256.5 377.4h0M367.9 384.6h0M386.7 374.9h0M292.6 393.2h0M266.3 366.1h0M365.4 384.5h0M348.9 368.4h0M344.8 377.7h0M353.5 387.7h0M268.0 382.6h0M362.1 367.1h0M369.6 354.3h0M346.4 376.9h0M350.9 368.0h0M300.2 367.0h0M359.1 365.5h0M276.6 374.9h0M355.8 389.8h0M348.7 371.7h0" stroke="#ea2420" stroke-opacity="0.55" stroke-width="2.9" stroke-linecap="round"/>
<path d="M301.5 363.3h0M347.2 371.4h0M356.4 369.9h0M349.2 383.9h0M293.0 373.6h0M405.6 397.8h0M380.0 315.8h0M379.8 378.7h0M273.9 360.7h0M350.9 371.2h0M300.8 380.9h0M361.5 375.1h0M340.3 369.9h0M411.1 383.2h0M380.2 376.6h0M273.7 398.6h0M288.9 398.7h0M367.4 391.8h0M351.3 349.5h0M285.5 383.0h0M370.6 359.4h0M284.4 371.3h0M390.8 369.5h0M266.0 395.8h0M350.6 384.9h0M356.9 377.3h0M369.9 385.8h0M409.5 380.1h0M359.3 381.0h0M363.0 320.1h0M288.8 398.1h0M352.5 384.8h0M357.4 381.8h0M374.7 386.7h0M298.5 380.3h0M297.5 382.4h0M360.1 365.6h0M295.2 397.2h0M270.6 371.0h0M389.8 392.8h0M266.8 372.1h0M362.8 385.3h0M356.0 393.8h0M374.8 374.3h0M291.3 387.1h0M274.5 389.4h0M357.7 372.5h0M292.7 392.6h0M281.1 363.5h0M366.4 379.0h0M390.3 396.2h0M363.9 388.3h0M286.3 344.8h0M292.1 377.1h0M399.7 376.7h0M401.4 385.2h0M298.3 385.9h0M347.7 357.4h0M283.9 387.8h0M358.3 375.6h0M364.5 395.8h0M273.7 372.1h0M343.5 371.5h0M269.8 383.2h0M346.3 361.9h0M373.8 382.9h0M295.5 373.1h0M269.1 372.1h0M301.1 372.0h0M255.3 362.0h0M398.8 369.7h0M277.0 376.4h0M379.2 385.9h0M282.9 381.2h0M279.0 387.1h0M280.0 398.1h0M289.4 390.7h0M276.3 381.0h0M373.9 366.0h0M289.3 396.4h0M292.5 352.3h0M364.4 390.6h0M398.6 364.9h0M297.6 376.2h0M301.8 376.8h0M381.6 384.9h0M347.4 363.5h0M302.1 382.2h0M355.6 370.0h0M362.7 382.8h0M361.6 373.9h0M278.3 378.3h0M350.8 368.1h0M348.0 364.5h0M397.6 390.6h0M355.7 376.8h0M346.5 381.0h0M293.8 366.7h0M354.0 373.7h0M259.1 394.3h0M398.9 393.4h0M307.4 379.9h0M352.5 382.3h0M346.4 381.8h0M366.5 391.0h0M300.1 391.3h0M357.6 363.1h0M285.7 391.8h0M359.3 364.8h0M288.7 373.5h0M385.6 304.4h0M349.9 376.9h0M308.3 384.4h0M378.4 340.4h0M353.5 387.5h0M309.4 383.7h0M354.9 373.4h0M361.3 386.7h0M357.5 389.3h0M290.7 383.0h0M341.7 371.1h0M353.8 370.7h0M368.7 356.1h0M285.9 376.7h0M296.8 384.1h0M363.4 370.4h0M297.5 367.1h0M281.6 346.5h0M396.8 381.7h0M347.6 395.0h0M376.1 384.2h0M389.9 378.9h0M364.7 296.9h0M381.1 386.0h0M376.8 382.2h0M311.1 383.0h0M295.0 385.9h0M280.0 386.9h0M298.5 381.5h0M367.6 379.5h0M382.6 373.8h0M279.9 369.5h0M376.8 384.3h0M374.5 376.5h0M294.7 382.7h0M397.5 398.0h0M362.5 387.1h0M374.8 358.1h0M284.6 392.0h0M349.0 363.5h0M389.2 380.4h0M288.3 396.0h0M303.5 381.8h0M296.9 299.5h0M378.4 362.8h0M283.4 379.4h0M387.0 385.7h0M382.6 373.9h0M319.6 394.8h0M265.5 368.3h0M358.8 386.0h0M397.9 379.2h0M343.3 377.4h0M367.8 336.5h0M292.6 396.5h0M355.4 378.6h0M375.1 384.3h0M288.1 376.5h0M305.5 379.6h0M275.0 378.3h0M279.2 387.0h0M350.2 375.1h0M269.8 376.4h0M355.5 382.6h0M357.2 373.9h0M259.9 390.9h0M364.6 393.5h0M359.4 390.3h0M276.3 389.2h0M299.1 368.7h0M364.5 395.9h0M275.4 307.9h0M376.9 376.6h0M356.0 379.9h0M294.4 391.6h0M303.3 398.8h0M375.6 359.4h0M353.1 375.0h0M374.0 387.1h0M295.2 395.9h0M360.2 392.9h0M293.0 367.8h0M361.5 382.2h0M380.6 382.3h0M283.5 342.4h0M282.7 346.4h0M381.5 383.2h0M260.5 365.0h0M294.0 391.5h0M344.9 359.2h0M291.1 382.4h0M360.6 378.8h0M295.7 394.3h0M363.8 370.8h0M368.8 365.1h0M357.4 398.2h0M294.5 375.3h0M270.3 336.9h0M350.2 398.6h0M354.5 380.9h0M315.4 394.4h0M379.4 362.4h0M295.8 390.3h0M289.8 381.2h0M365.9 379.4h0M383.5 380.4h0M290.0 389.7h0M376.3 353.0h0M346.2 367.4h0M339.9 396.4h0M302.0 391.0h0M359.1 369.6h0M356.3 382.6h0M354.0 375.4h0M275.0 372.5h0M284.7 377.0h0M360.9 383.5h0M355.1 371.1h0M304.3 364.5h0M290.0 387.7h0M366.3 373.0h0M290.3 392.6h0M303.1 379.5h0M301.8 382.5h0" stroke="#ea2420" stroke-opacity="0.55" stroke-width="2.9" stroke-linecap="round"/>
<path d="M343.6 355.2h0M295.3 392.6h0M307.2 344.4h0M377.7 393.5h0M299.4 375.3h0M289.5 369.2h0M294.9 382.2h0M386.7 335.2h0M290.1 379.7h0M284.4 375.8h0M362.3 355.1h0M345.6 368.9h0M367.1 375.3h0M379.1 380.9h0M350.1 366.1h0M300.4 381.9h0M375.6 371.5h0M359.3 372.6h0M372.0 376.2h0M353.5 359.7h0M280.9 363.6h0M360.7 374.9h0M389.8 385.6h0M359.3 375.1h0M305.0 327.3h0M340.7 386.2h0M288.3 368.0h0M357.9 377.6h0M284.7 393.9h0M376.3 323.0h0M391.1 363.1h0M338.0 374.8h0M347.2 371.5h0M361.7 353.6h0M357.0 374.4h0M373.8 369.2h0M340.7 372.7h0M296.8 397.4h0M398.0 377.4h0M345.2 379.7h0M351.3 377.7h0M274.8 367.3h0M289.4 385.1h0M386.5 381.4h0M307.3 378.2h0M265.6 367.8h0M379.5 384.9h0M365.3 394.8h0M290.8 386.5h0M268.5 368.7h0M363.9 395.8h0M288.6 396.0h0M289.2 370.8h0M295.2 390.9h0M380.9 348.2h0M290.2 388.1h0M312.6 386.5h0M284.0 380.8h0M368.8 385.6h0M342.5 379.6h0M352.0 372.8h0M382.5 377.2h0M305.9 377.6h0M286.9 382.7h0M308.3 388.9h0M346.5 382.8h0M367.8 386.5h0M281.8 395.3h0M354.6 385.4h0M298.1 394.2h0M286.8 395.9h0M345.0 384.5h0M359.0 390.7h0M304.6 398.4h0M292.1 365.3h0M377.3 327.5h0M351.0 370.8h0M375.4 395.2h0M343.1 383.2h0M362.6 381.1h0M376.3 377.4h0M300.4 373.0h0M367.8 361.6h0M373.7 371.3h0M379.4 391.4h0M277.2 393.9h0M389.8 368.8h0M349.2 360.1h0M292.7 369.6h0M309.8 395.9h0M300.4 398.1h0M286.7 393.5h0M307.7 380.1h0M366.8 382.7h0M373.0 388.7h0M358.8 360.4h0M357.1 376.1h0M287.0 389.1h0M384.3 369.4h0M298.7 387.9h0M368.0 337.0h0M287.2 384.7h0M308.8 382.2h0M339.0 374.5h0M280.3 367.8h0M305.2 388.2h0M367.2 350.6h0M285.3 387.9h0M384.0 378.9h0M350.4 371.4h0M317.9 396.2h0M393.1 373.7h0M367.6 392.7h0M297.3 373.3h0M344.1 369.0h0M286.0 365.4h0M346.8 381.4h0M351.1 378.4h0M366.3 383.5h0M380.4 379.8h0M343.6 373.6h0M392.1 371.6h0M313.8 392.2h0M358.9 397.3h0M357.3 378.0h0M351.3 360.9h0M355.1 364.1h0M372.3 361.7h0M348.8 366.1h0M364.2 370.3h0M369.8 365.8h0M374.8 388.4h0M285.7 379.5h0M388.1 388.4h0M337.2 384.9h0M293.1 386.0h0M378.6 363.9h0M281.5 390.2h0M364.7 368.8h0M373.4 379.4h0M406.2 377.4h0M298.1 370.5h0M375.2 360.4h0M357.9 293.7h0M300.9 378.8h0M383.2 391.1h0M301.5 346.0h0M361.9 374.6h0M361.7 384.7h0M311.9 385.3h0M391.9 377.8h0M281.7 365.7h0M372.3 386.6h0M357.5 382.3h0M295.9 388.9h0M354.3 376.7h0M342.8 357.7h0M356.1 362.4h0M306.5 375.1h0M364.7 372.5h0M351.6 366.0h0M295.4 373.2h0M394.8 384.6h0M259.6 383.1h0M310.5 376.7h0M355.7 363.9h0M291.9 380.4h0M266.2 368.5h0M288.9 387.0h0M368.8 360.5h0M369.1 382.8h0M350.3 388.8h0M283.1 395.3h0M348.8 378.6h0M379.9 387.8h0M353.6 356.2h0M296.0 381.8h0M342.9 368.9h0M290.7 383.3h0M294.8 380.5h0M369.4 369.9h0M271.7 392.7h0M302.0 375.0h0M287.0 388.6h0M401.7 377.0h0M392.1 382.6h0M357.0 370.7h0M291.4 378.2h0M271.0 393.3h0M383.1 370.4h0M296.8 370.9h0M293.9 387.2h0M287.4 391.9h0M292.5 389.2h0M378.2 371.3h0M358.1 396.4h0M351.9 341.0h0M353.0 383.3h0M361.6 377.6h0M305.7 376.5h0M362.1 365.2h0M289.0 385.6h0M374.4 378.4h0M290.4 391.4h0M389.6 389.6h0M343.4 357.0h0M306.5 393.7h0M309.6 373.4h0M358.0 377.0h0M288.5 338.0h0M397.4 370.3h0M405.9 374.8h0M364.5 395.2h0M280.5 367.1h0M378.2 396.3h0M395.2 366.4h0M373.9 394.5h0M355.6 353.3h0M288.8 380.7h0M355.6 383.4h0M356.3 377.9h0M399.6 362.1h0M367.3 381.3h0M278.2 367.9h0M339.2 371.3h0M279.7 385.9h0M285.5 361.6h0M351.7 390.7h0M289.0 363.4h0M367.4 367.1h0M385.6 391.3h0M354.4 370.6h0M285.6 339.8h0M251.8 373.4h0" stroke="#ea2420" stroke-opacity="0.55" stroke-width="2.9" stroke-linecap="round"/>
<path d="M341.8 393.6h0M275.4 375.5h0M296.6 371.7h0M294.8 373.5h0M301.6 390.6h0M279.1 372.7h0M294.3 358.1h0M347.7 388.9h0M293.8 379.5h0M358.4 363.1h0M360.5 380.8h0M346.4 356.4h0M382.2 367.7h0M385.7 384.5h0M354.3 375.6h0M285.4 385.3h0M358.9 370.8h0M364.7 369.5h0M302.8 375.2h0M292.0 380.3h0M289.7 394.1h0M355.6 316.1h0M291.0 387.1h0M297.1 393.1h0M342.3 380.8h0M349.9 378.5h0M292.8 382.0h0M281.1 391.8h0M277.1 379.8h0M296.2 386.3h0M357.6 376.8h0M279.3 378.5h0M283.2 306.9h0M368.9 381.1h0M267.0 377.2h0M294.4 384.9h0M286.9 377.3h0M389.0 385.6h0M288.6 378.4h0M366.9 388.4h0M368.2 356.7h0M279.5 393.8h0M286.4 373.1h0M369.5 371.3h0M271.7 387.6h0M373.5 374.6h0M294.7 335.0h0M354.6 368.8h0M379.4 385.9h0M307.5 381.3h0M354.5 382.8h0M270.6 324.9h0M371.6 379.3h0M356.8 376.0h0M374.5 372.3h0M382.1 376.0h0M349.5 326.4h0M299.9 378.8h0M299.1 376.2h0M367.4 396.2h0M276.4 390.9h0M347.0 379.9h0M290.1 389.9h0M371.4 376.5h0M287.3 384.5h0M262.2 393.1h0M299.4 375.8h0M357.2 359.4h0M289.5 336.1h0M349.9 381.2h0M345.1 370.5h0M290.7 367.1h0M344.5 360.0h0M364.9 370.7h0M377.2 368.0h0M366.2 375.3h0M266.2 385.3h0M390.1 388.7h0M382.1 384.2h0M345.1 371.7h0M372.2 365.5h0M375.3 368.6h0M272.5 395.8h0M286.8 337.0h0M300.1 391.2h0M341.0 381.8h0M391.6 362.1h0M401.6 387.9h0M299.6 395.7h0M346.8 368.9h0M289.7 310.0h0M347.1 369.8h0M363.4 382.8h0M302.2 383.4h0M344.8 367.4h0M287.7 379.4h0M388.5 376.4h0M395.9 381.9h0M370.1 374.2h0M351.4 388.8h0M394.7 392.1h0M374.6 384.2h0M391.8 397.6h0M285.6 395.2h0M350.6 375.1h0M357.2 379.8h0M290.2 372.8h0M297.0 368.6h0M363.9 381.0h0M378.6 374.9h0M292.3 370.9h0M363.5 363.6h0M298.7 381.5h0M258.3 375.1h0M304.9 360.2h0M264.0 375.3h0M349.1 378.0h0M342.2 358.7h0M372.3 381.7h0M362.8 364.4h0M290.7 375.8h0M303.5 356.4h0M294.3 390.9h0M355.6 352.4h0M297.0 377.1h0M298.6 365.9h0M366.9 364.9h0M386.3 367.8h0M358.8 374.4h0M352.1 360.6h0M291.9 383.2h0M283.4 357.9h0M384.2 380.0h0M286.4 327.1h0M356.1 370.9h0M277.7 388.1h0M355.1 356.0h0M304.5 365.8h0M258.2 363.9h0M276.2 377.2h0M293.0 393.3h0M291.0 371.2h0M314.1 385.2h0M274.1 376.0h0M396.5 377.7h0M290.6 380.7h0M342.8 392.8h0M355.2 317.9h0M354.5 376.9h0M296.5 381.7h0M288.0 379.0h0M386.5 386.6h0M340.2 384.9h0M297.7 372.2h0M353.7 390.2h0M377.3 390.3h0M290.9 392.6h0M347.1 359.1h0M378.1 360.2h0M340.7 366.7h0M300.0 387.9h0M292.8 385.1h0M353.6 369.5h0M266.5 378.7h0M367.8 383.5h0M308.3 381.1h0M359.9 388.6h0M287.1 378.7h0M356.4 375.3h0M298.7 385.5h0M311.9 377.6h0M354.0 369.1h0M362.3 389.2h0M405.6 394.6h0M292.2 387.7h0M287.4 381.3h0M297.7 383.4h0M349.3 377.7h0M379.4 389.4h0M357.0 364.2h0M386.0 379.4h0M354.1 375.5h0M271.6 395.0h0M287.7 382.3h0M370.0 381.0h0M284.3 353.7h0M375.3 383.8h0M296.0 385.6h0M353.6 379.5h0M294.5 375.1h0M346.7 364.9h0M298.4 388.4h0M400.2 382.3h0M345.6 351.3h0M305.7 385.5h0M316.4 395.3h0M363.8 380.8h0M371.9 391.8h0M363.1 381.9h0M277.3 375.7h0M287.3 361.3h0M293.8 379.5h0M301.9 362.9h0M370.0 375.3h0M295.7 368.2h0M378.9 393.4h0M352.4 384.0h0M282.2 387.4h0M285.7 389.3h0M348.8 335.4h0M311.2 380.5h0M357.5 367.9h0M271.2 391.4h0M351.4 379.7h0M369.8 377.4h0M271.4 383.5h0M272.0 371.3h0M343.2 380.3h0M341.2 387.4h0M348.6 353.5h0M354.7 354.7h0M278.2 379.3h0M308.5 366.4h0M361.7 374.6h0M343.9 369.0h0M367.0 385.7h0M348.4 373.9h0M351.3 396.2h0M261.9 381.0h0M391.1 391.6h0M266.8 378.6h0M361.3 391.9h0M380.7 349.0h0M349.1 375.5h0" stroke="#ea2420" stroke-opacity="0.55" stroke-width="2.9" stroke-linecap="round"/>
<path d="M372.8 390.9h0M349.9 387.2h0M302.9 387.2h0M391.8 379.6h0M304.3 331.3h0M282.7 381.0h0M357.6 375.9h0M361.4 378.1h0M306.0 391.1h0M298.3 368.3h0M287.5 386.1h0M398.6 361.8h0M355.6 387.9h0M304.9 363.4h0M356.3 377.6h0M283.3 380.9h0M300.8 348.2h0M301.7 358.4h0M357.6 371.3h0M357.1 381.2h0M347.3 345.6h0M338.5 370.2h0M371.4 376.1h0M246.2 372.5h0M296.0 369.6h0M301.0 370.9h0M353.5 375.5h0M387.0 381.2h0M299.4 373.0h0M368.0 369.0h0M360.5 366.1h0M387.7 321.1h0M362.8 376.2h0M342.4 384.6h0M357.0 379.5h0M304.5 380.7h0M351.5 368.3h0M337.0 382.8h0M388.5 378.4h0M377.5 377.7h0M344.5 377.9h0M347.2 368.0h0M371.9 322.1h0M353.2 379.8h0M371.2 388.3h0M291.8 385.0h0M350.4 375.6h0M378.5 344.7h0M246.2 374.4h0M343.9 358.3h0M379.4 364.0h0M289.4 360.1h0M306.2 380.5h0M406.4 370.1h0M263.7 372.8h0M303.1 356.7h0M285.6 387.6h0M350.6 366.5h0M350.4 362.3h0M364.6 382.6h0M320.1 392.1h0M358.3 384.7h0M355.4 372.7h0M364.5 369.1h0M344.7 328.9h0M269.5 382.2h0M288.1 382.8h0M391.6 392.4h0M285.1 383.3h0M439.5 359.2h0M286.8 379.8h0M355.5 365.8h0M379.7 382.2h0M291.0 391.2h0M307.7 371.6h0M283.5 377.8h0M301.9 380.8h0M380.0 378.3h0M304.9 379.0h0M351.4 380.4h0M378.4 362.6h0M358.0 384.3h0M283.4 372.6h0M368.7 389.2h0M349.2 356.0h0M269.0 395.9h0M258.7 372.6h0M278.9 397.4h0M284.8 391.5h0M302.9 356.0h0M300.3 391.3h0M293.9 377.1h0M393.0 361.6h0M391.0 377.7h0M288.0 392.0h0M284.6 384.5h0M357.9 371.7h0M360.9 377.5h0M359.4 376.3h0M379.5 375.0h0M378.2 362.2h0M281.4 398.7h0M275.3 396.1h0M375.6 378.5h0M298.2 379.7h0M292.3 370.2h0M348.7 376.5h0M376.7 379.4h0M304.9 384.0h0M398.8 382.7h0M374.5 362.3h0M302.7 390.3h0M291.9 384.1h0M297.9 363.2h0M300.1 386.4h0M353.8 375.0h0M292.2 388.6h0M278.4 380.0h0M317.5 378.7h0M282.8 390.1h0M271.8 398.4h0M310.8 384.0h0M295.5 395.9h0M343.3 393.8h0M296.5 380.4h0M280.0 359.7h0M362.6 381.8h0M357.8 319.8h0M268.3 393.4h0M345.8 378.4h0M297.2 379.8h0M286.1 366.6h0M351.6 374.2h0M295.7 351.1h0M289.5 398.4h0M358.1 330.9h0M300.3 364.8h0M294.3 362.9h0M289.1 376.9h0M345.1 371.1h0M377.2 372.3h0M347.2 397.7h0M376.3 376.4h0M342.0 368.5h0M345.1 374.9h0M278.3 392.8h0M294.9 394.5h0M339.8 373.2h0M307.3 384.2h0M284.2 373.6h0M302.6 374.6h0M366.5 367.4h0M353.1 367.1h0M337.3 395.7h0M337.7 384.9h0M302.2 387.1h0M380.1 386.8h0M372.3 371.8h0M301.7 397.8h0M392.5 394.0h0M295.0 390.4h0M374.9 362.8h0M342.5 370.9h0M294.5 385.3h0M296.7 372.6h0M369.1 366.9h0M303.5 383.5h0M352.3 378.1h0M394.9 387.5h0M303.9 395.1h0M357.8 383.7h0M304.5 343.7h0M281.2 391.1h0M338.3 387.8h0M284.2 369.7h0M351.8 374.7h0M350.6 368.2h0M338.9 383.6h0M292.3 374.6h0M343.1 369.7h0M366.4 385.1h0M341.5 378.2h0M362.8 369.5h0M273.4 390.4h0M303.0 385.5h0M281.3 366.5h0M374.3 369.2h0M375.7 390.2h0M366.9 381.4h0M281.0 373.7h0M271.6 375.1h0M374.7 367.4h0M282.5 374.0h0M291.2 392.2h0M301.4 379.6h0M375.4 394.1h0M375.2 393.1h0M363.1 374.5h0M354.6 353.5h0M298.6 395.3h0M269.9 380.8h0M276.0 372.6h0M280.6 391.9h0M291.2 396.7h0M385.0 393.9h0M364.1 360.7h0M369.2 360.3h0M278.6 347.4h0M286.3 392.6h0M299.5 379.6h0M370.7 368.9h0M299.5 326.8h0M303.3 386.8h0M340.5 389.4h0M279.9 391.6h0M371.9 371.5h0M351.3 395.7h0M275.3 364.8h0M313.1 393.0h0M288.7 389.4h0M364.2 379.3h0M368.3 391.4h0M294.2 382.3h0M362.2 341.7h0M358.8 367.5h0M369.6 354.4h0M280.1 373.9h0M275.8 387.0h0M378.0 381.7h0M305.6 364.4h0M339.5 368.8h0M372.5 339.9h0M354.5 374.5h0M303.4 389.2h0" stroke="#ea2420" stroke-opacity="0.55" stroke-width="2.9" stroke-linecap="round"/>
<path d="M376.5 372.5h0M288.9 390.6h0M284.2 364.5h0M296.7 383.5h0M401.1 389.7h0M385.7 377.4h0M283.9 366.3h0M281.4 377.3h0M385.4 369.4h0M295.3 379.9h0M372.0 378.6h0M286.9 395.7h0M284.1 372.1h0M354.0 392.4h0M348.7 370.0h0M344.8 359.5h0M342.0 370.4h0M258.4 380.3h0M277.1 359.9h0M391.2 375.1h0M291.2 388.8h0M275.1 368.4h0M362.4 374.0h0M295.6 380.8h0M301.8 368.3h0M288.0 389.7h0M257.7 376.3h0M406.9 376.7h0M279.5 393.8h0M304.4 385.9h0M253.2 370.9h0M382.3 380.7h0M281.4 343.3h0M381.3 384.9h0M360.9 380.8h0M341.2 379.5h0M381.8 382.2h0M343.3 392.9h0M273.7 370.3h0M355.7 363.7h0M351.3 396.8h0M295.4 347.5h0M341.0 370.9h0M280.7 386.1h0M365.1 365.3h0M297.1 356.4h0M363.7 376.2h0M364.0 365.9h0M342.8 377.4h0M281.0 328.3h0M366.0 377.6h0M258.3 378.4h0M361.4 371.0h0M380.9 374.0h0M284.8 395.1h0M374.2 390.3h0M348.6 315.0h0M290.1 374.1h0M295.1 370.7h0M308.3 391.8h0M290.7 394.8h0M296.9 369.0h0M306.2 381.9h0M383.4 368.6h0M284.5 380.7h0M269.7 376.0h0M373.2 322.1h0M358.9 363.3h0M268.8 375.9h0M283.4 397.4h0M388.2 373.4h0M369.2 359.9h0M288.6 382.7h0M356.7 346.5h0M390.0 391.3h0M353.0 351.9h0M359.3 334.5h0M282.9 397.2h0M278.9 366.8h0M276.1 397.6h0M285.9 359.0h0M365.9 376.1h0M296.8 393.9h0M300.8 377.4h0M359.2 378.5h0M285.8 374.1h0M287.0 388.5h0M273.8 352.9h0M283.1 364.2h0M362.3 383.9h0M302.8 389.2h0M281.0 373.4h0M290.9 378.2h0M288.9 374.2h0M378.4 381.5h0M346.6 375.5h0M377.2 388.7h0M364.1 383.3h0M247.5 393.5h0M342.8 385.6h0M290.5 378.6h0M344.9 368.6h0M298.7 388.9h0M356.2 375.4h0M356.1 356.5h0M342.7 370.0h0M360.7 356.9h0M378.5 388.8h0M359.3 394.1h0M309.7 383.9h0M341.5 368.2h0M352.8 358.5h0M385.1 378.6h0M363.8 383.6h0M280.8 393.5h0M384.9 385.4h0M257.2 372.9h0M384.6 387.1h0M378.4 373.2h0M338.6 378.6h0M368.8 353.0h0M296.7 392.8h0M284.9 375.0h0M395.8 385.0h0M383.2 386.7h0M376.7 395.6h0M282.5 375.3h0M259.8 364.4h0M316.8 378.7h0M359.2 376.0h0M283.4 372.4h0M369.1 373.8h0M295.9 381.6h0M303.8 379.6h0M354.8 364.1h0M272.5 392.5h0M349.6 362.1h0M274.0 383.8h0M375.4 388.2h0M299.2 383.1h0M357.0 379.5h0M340.6 372.5h0M290.7 385.9h0M278.6 384.1h0M363.0 365.4h0M297.1 374.6h0M293.2 372.3h0M354.0 378.2h0M302.9 352.7h0M311.1 398.8h0M384.0 377.6h0M275.6 382.3h0M295.3 367.3h0M287.2 384.4h0M292.5 372.1h0M359.7 388.3h0M392.6 375.0h0M361.3 337.8h0M355.6 374.9h0M276.6 391.8h0M298.3 373.7h0M293.9 390.6h0M282.4 381.0h0M282.6 385.2h0M275.1 372.5h0M365.3 382.0h0M390.8 370.5h0M338.0 387.7h0M359.2 386.7h0M247.6 391.4h0M274.6 377.7h0M363.1 386.8h0M298.4 374.8h0M360.1 376.5h0M285.5 379.8h0M399.7 382.8h0M373.8 387.3h0M398.0 390.3h0M346.1 371.7h0M355.7 383.2h0M364.8 370.6h0M309.0 389.1h0M304.9 365.4h0M281.1 382.3h0M277.4 374.5h0M341.2 376.4h0M387.3 381.9h0M256.0 372.8h0M363.9 395.6h0M290.8 391.2h0M356.1 369.5h0M378.4 383.9h0M294.4 394.9h0M367.5 392.9h0M293.6 345.4h0M300.7 386.8h0M299.0 382.8h0M346.2 380.7h0M291.7 364.1h0M302.3 371.7h0M341.8 373.7h0M298.6 378.0h0M404.3 388.5h0M305.6 383.4h0M364.1 388.2h0M360.1 361.6h0M295.7 357.9h0M382.4 386.8h0M283.8 371.0h0M300.2 389.0h0M380.4 375.2h0M256.8 389.0h0M374.6 377.1h0M338.7 368.6h0M372.9 381.0h0M281.7 357.8h0M371.8 391.2h0M303.7 377.6h0M315.7 381.8h0M346.5 374.2h0M310.7 383.5h0M393.8 386.4h0M271.7 386.0h0M275.0 391.8h0M288.4 326.3h0M300.6 384.6h0M343.7 366.1h0M263.5 369.8h0M278.7 368.2h0M291.3 389.7h0M365.3 382.1h0M382.5 387.4h0M356.6 394.1h0M354.7 361.5h0" stroke="#ea2420" stroke-opacity="0.55" stroke-width="2.9" stroke-linecap="round"/>
<path d="M380.4 390.3h0M295.1 379.5h0M356.1 395.3h0M362.3 394.2h0M359.1 362.3h0M295.4 322.7h0M282.7 380.7h0M372.7 365.0h0M349.8 369.8h0M345.0 375.9h0M391.4 377.5h0M353.1 377.1h0M378.7 362.3h0M389.7 395.3h0M311.1 377.5h0M290.5 367.1h0M366.3 339.5h0M302.0 390.9h0M281.3 385.3h0M289.5 376.7h0M275.2 394.1h0M339.4 383.7h0M291.6 368.0h0M295.8 373.9h0M364.5 370.3h0M313.1 392.3h0M267.4 391.7h0M309.0 373.1h0M263.7 355.9h0M359.1 371.9h0M285.7 372.4h0M308.0 378.0h0M284.0 356.5h0M307.1 381.8h0M363.0 370.9h0M374.2 378.4h0M302.8 397.1h0M346.4 360.8h0M363.1 372.7h0M284.7 393.0h0M347.8 396.4h0M280.7 380.6h0M356.2 377.0h0M346.9 351.9h0M355.6 370.5h0M407.0 372.9h0M357.7 367.2h0M287.5 372.4h0M359.0 368.8h0M308.7 376.8h0M347.9 365.9h0M378.3 352.8h0M261.4 394.8h0M359.9 372.0h0M368.4 383.1h0M362.8 386.0h0M346.0 377.7h0M374.6 315.3h0M344.4 370.5h0M343.4 369.6h0M288.5 336.4h0M358.7 396.8h0M355.4 385.9h0M369.2 391.9h0M267.7 375.0h0M298.7 381.0h0M311.4 381.0h0M344.6 372.4h0M355.9 388.7h0M376.9 388.0h0M351.4 371.5h0M366.9 352.2h0M308.2 376.2h0M295.6 394.9h0M271.9 329.3h0M348.0 360.0h0M354.1 381.3h0M294.7 372.2h0M349.1 365.2h0M290.0 385.1h0M302.0 392.7h0M361.6 391.5h0M289.8 374.7h0M358.4 378.1h0M350.6 362.4h0M380.7 383.8h0M349.9 365.6h0M295.3 371.8h0M253.5 389.7h0M376.6 374.2h0M299.6 385.8h0M303.7 383.9h0M345.9 380.7h0M306.2 381.9h0M277.8 386.5h0M279.7 374.8h0M295.4 374.8h0M350.9 330.7h0M372.9 382.7h0M265.6 391.4h0M340.6 368.8h0M349.0 369.4h0M279.1 367.3h0M294.6 388.4h0M263.4 393.6h0M320.3 392.0h0M291.3 369.4h0M342.8 374.2h0M379.5 376.2h0M352.8 368.1h0M313.7 386.6h0M345.7 377.6h0M354.4 375.5h0M357.2 361.6h0M295.7 373.2h0M292.1 392.6h0M355.0 383.8h0M362.8 368.7h0M392.0 379.1h0M359.3 398.1h0M383.4 388.0h0M384.2 381.7h0M363.0 383.5h0M288.9 365.2h0M275.2 373.0h0M356.1 391.0h0M375.3 345.7h0M292.9 382.3h0M365.3 338.0h0M276.5 397.8h0M367.6 373.0h0M396.4 377.5h0M372.1 369.3h0M358.7 371.5h0M283.3 381.7h0M288.6 384.6h0M374.8 378.2h0M394.6 380.7h0M356.3 385.2h0M285.5 371.9h0M379.5 380.3h0M342.0 351.5h0M285.2 370.8h0M355.1 390.1h0M311.1 378.5h0M376.0 392.0h0M348.7 393.7h0M357.9 365.8h0M375.6 370.7h0M373.5 384.3h0M367.2 378.1h0M355.1 390.7h0M341.6 383.7h0M357.0 380.0h0M311.3 374.0h0M359.0 379.4h0M294.7 380.7h0M359.3 383.3h0M348.5 389.3h0M288.4 373.1h0M367.3 375.2h0M371.9 378.3h0M360.0 362.7h0M388.9 395.3h0M386.7 385.8h0M274.1 372.0h0M294.2 380.3h0M364.1 366.6h0M375.4 380.8h0M282.1 388.6h0M279.1 389.5h0M344.6 368.1h0M393.3 381.6h0M385.4 374.5h0M382.2 384.1h0M302.5 373.0h0M292.0 386.3h0M359.3 380.4h0M379.4 394.0h0M267.2 378.6h0M294.1 374.0h0M399.2 388.1h0M371.8 397.5h0M359.3 384.1h0M293.8 385.4h0M360.3 367.4h0M345.8 390.6h0M301.1 394.0h0M361.8 387.2h0M278.1 392.4h0M260.6 384.7h0M284.9 365.9h0M348.8 376.9h0M353.5 382.8h0M277.3 391.1h0M348.1 377.3h0M384.1 373.4h0M266.8 385.1h0M380.9 385.0h0M268.0 372.4h0M259.7 388.2h0M281.5 384.7h0M296.5 384.5h0M298.5 377.7h0M270.5 397.1h0M280.2 392.2h0M349.9 377.4h0M293.2 387.6h0M342.2 388.3h0M398.4 357.1h0M300.1 376.2h0M354.7 349.6h0M348.6 384.4h0M298.6 384.6h0M304.0 397.0h0M353.4 374.9h0M386.1 385.1h0M355.2 376.7h0M308.6 378.0h0M294.9 357.1h0M298.0 350.6h0M301.2 372.9h0M273.8 379.9h0M393.4 387.8h0M396.5 390.1h0M342.6 383.4h0M317.5 392.9h0M291.6 389.0h0M398.7 388.3h0M311.7 378.9h0M397.8 382.1h0M357.7 365.1h0M356.1 371.4h0M285.1 382.8h0" stroke="#ea2420" stroke-opacity="0.55" stroke-width="2.9" stroke-linecap="round"/>
<path d="M270.5 394.5h0M280.6 379.8h0M292.9 387.7h0M349.2 383.1h0M339.3 366.1h0M281.5 360.1h0M290.3 383.8h0M286.8 391.6h0M356.5 382.1h0M266.1 370.3h0M388.3 367.6h0M293.2 388.8h0M367.2 374.4h0M346.9 398.0h0M363.6 359.1h0M349.7 385.3h0M315.4 384.0h0M343.4 375.0h0M286.3 372.8h0M297.2 382.2h0M354.4 380.3h0M350.6 364.0h0M288.5 388.7h0M283.8 379.3h0M313.1 381.4h0M278.3 362.4h0M311.2 397.9h0M372.6 381.8h0M351.3 365.7h0M348.2 372.9h0M354.9 379.2h0M374.0 375.8h0M369.2 363.1h0M359.6 391.5h0M282.5 397.2h0M370.8 381.7h0M388.7 395.3h0M408.1 372.7h0M352.1 388.6h0M396.2 382.3h0M356.3 369.2h0M299.0 386.5h0M367.2 386.6h0M260.7 363.1h0M347.9 374.8h0M361.2 364.6h0M302.2 376.1h0M390.2 380.5h0M352.0 367.3h0M360.6 365.5h0M393.8 396.7h0M273.9 367.6h0M281.1 380.3h0M354.5 367.9h0M355.5 373.3h0M387.5 381.2h0M382.8 370.2h0M296.5 368.3h0M373.7 380.7h0M392.9 389.0h0M413.1 379.6h0M378.5 383.2h0M364.3 369.8h0M281.3 367.7h0M282.8 383.1h0M387.5 392.3h0M286.5 388.7h0M362.0 370.8h0M287.3 373.8h0M346.1 384.1h0M387.8 378.8h0M303.4 377.4h0M273.7 387.9h0M373.9 389.0h0M353.0 385.7h0M357.3 370.5h0M385.0 372.8h0M299.8 383.0h0M299.4 395.8h0M354.0 370.1h0M265.8 356.2h0M369.0 369.8h0M391.0 386.2h0M399.5 384.0h0M370.7 381.1h0M354.2 357.1h0M354.5 391.5h0M376.6 356.5h0M302.2 378.0h0M390.6 396.7h0M299.4 378.2h0M300.8 387.2h0M295.6 376.6h0M344.6 355.3h0M314.9 376.7h0M350.1 369.6h0M351.4 361.6h0M359.2 381.0h0M285.6 344.0h0M340.3 377.6h0M359.8 361.3h0M377.2 361.2h0M293.1 371.0h0M293.9 370.2h0M311.3 381.8h0M347.1 373.4h0M350.5 391.9h0M363.6 383.4h0M303.2 374.1h0M349.0 372.5h0M348.0 378.0h0M356.1 353.2h0M347.4 382.1h0M347.5 376.4h0M284.5 370.8h0M289.4 380.0h0M349.5 386.0h0M397.3 384.6h0M265.8 374.8h0M366.3 396.5h0M395.1 387.2h0M353.7 392.9h0M271.9 395.7h0M295.1 374.9h0M257.9 352.5h0M352.1 364.6h0M359.1 373.7h0M253.5 391.3h0M288.4 376.9h0M365.1 385.6h0M372.1 367.7h0M349.4 374.0h0M359.3 358.9h0M286.7 381.2h0M307.1 376.3h0M305.1 366.0h0M354.9 362.2h0M356.8 359.7h0M295.4 398.4h0M372.7 366.7h0M275.4 372.5h0M291.7 381.8h0M291.2 341.5h0M376.3 369.5h0M379.6 392.1h0M388.9 376.3h0M298.7 395.7h0M299.3 397.4h0M287.2 371.2h0M365.4 380.4h0M369.8 318.2h0M384.1 388.9h0M368.8 367.3h0M387.3 387.4h0M340.9 369.1h0M274.8 368.8h0M365.5 390.6h0M279.2 372.0h0M360.2 374.7h0M298.9 366.3h0M295.9 387.1h0M344.0 369.6h0M364.7 378.2h0M293.3 382.3h0M361.4 383.3h0M284.1 387.6h0M257.1 379.8h0M360.2 370.8h0M269.5 386.6h0M358.8 372.6h0M348.3 368.4h0M277.1 389.3h0M358.6 332.3h0M356.1 374.3h0M344.8 368.3h0M303.6 393.1h0M372.0 376.7h0M309.6 385.3h0M368.4 382.4h0M291.6 363.3h0M298.0 374.7h0M300.4 376.4h0M358.8 364.0h0M277.1 362.5h0M357.7 325.0h0M299.6 330.5h0M288.6 389.7h0M378.5 384.1h0M279.4 328.6h0M271.2 383.1h0M295.3 337.7h0M368.2 371.9h0M351.4 374.0h0M289.9 379.7h0M273.6 370.6h0M361.1 370.3h0M377.1 356.3h0M297.2 375.6h0M288.7 373.9h0M285.9 378.6h0M293.9 361.2h0M311.0 383.2h0M273.4 380.4h0M355.2 362.0h0M346.2 352.3h0M349.2 390.5h0M342.8 374.9h0M258.3 382.3h0M294.0 386.6h0M300.9 366.2h0M351.5 385.5h0M311.1 384.1h0M300.1 389.8h0M257.7 398.5h0M383.4 372.0h0M365.2 312.8h0M303.0 390.9h0M348.3 358.8h0M376.2 378.7h0M274.3 371.9h0M394.3 372.2h0M277.5 387.9h0M286.5 383.2h0M350.6 365.0h0M289.5 386.1h0M350.8 376.5h0M284.0 377.5h0M362.1 309.3h0M297.5 350.1h0M294.4 391.7h0M295.6 396.4h0M301.6 381.7h0M290.2 350.2h0" stroke="#ea2420" stroke-opacity="0.55" stroke-width="2.9" stroke-linecap="round"/>
<path d="M293.5 368.2h0M357.4 374.8h0M369.0 369.0h0M363.0 387.6h0M281.2 371.6h0M273.8 383.5h0M299.8 394.5h0M297.1 389.8h0M284.5 386.9h0M365.2 363.7h0M262.1 349.5h0M363.6 373.2h0M293.4 396.6h0M378.0 320.3h0M361.7 370.0h0M300.3 381.6h0M356.1 371.5h0M346.2 366.1h0M386.0 390.6h0M357.8 361.2h0M288.4 395.2h0M364.7 387.1h0M354.7 366.8h0M365.2 373.4h0M285.2 385.6h0M278.3 378.4h0M382.8 368.1h0M359.8 391.9h0M299.9 390.6h0M282.6 321.0h0M351.6 382.4h0M367.5 390.3h0M281.4 366.6h0M385.2 390.2h0M269.0 373.2h0M299.7 386.8h0M386.9 383.9h0M390.6 369.0h0M348.5 373.8h0M341.1 372.6h0M274.1 390.1h0M346.7 387.4h0M356.3 371.9h0M354.2 384.7h0M361.4 354.7h0M281.6 378.6h0M368.4 371.9h0M373.2 384.2h0M362.6 383.2h0M379.4 386.5h0M381.7 381.2h0M291.0 397.2h0M296.8 373.1h0M342.7 376.5h0M392.5 383.6h0M305.9 390.2h0M290.5 387.5h0M266.0 377.0h0M286.1 384.2h0M370.0 386.1h0M387.4 319.2h0M293.9 364.5h0M263.4 387.0h0M301.3 383.6h0M290.5 389.2h0M351.4 380.0h0M297.3 392.0h0M372.7 351.2h0M375.3 358.6h0M276.8 377.6h0M350.1 389.0h0M354.3 382.1h0M416.7 383.7h0M300.6 363.6h0M341.7 367.7h0M339.9 389.0h0M366.9 372.4h0M366.0 366.3h0M292.9 356.6h0M300.6 323.6h0M357.1 367.3h0M356.1 384.1h0M347.1 383.1h0M294.1 377.1h0M286.1 355.1h0M384.0 381.7h0M295.0 378.3h0M352.5 371.7h0M345.1 376.9h0M348.9 375.5h0M274.4 387.9h0M285.3 377.8h0M308.7 375.3h0M346.0 362.6h0M287.6 385.3h0M362.4 371.0h0M284.3 381.9h0M302.2 376.6h0M345.5 392.4h0M277.6 374.2h0M305.2 321.4h0M389.0 392.1h0M375.3 366.6h0M291.1 389.1h0M308.6 377.9h0M373.7 384.2h0M378.0 380.8h0M376.1 391.2h0M353.8 389.4h0M368.7 387.8h0M360.6 380.6h0M290.5 376.5h0M351.8 358.0h0M290.2 366.1h0M361.1 387.2h0M367.8 384.6h0M291.4 380.8h0M295.8 370.5h0M365.6 396.3h0M300.6 372.2h0M357.7 388.0h0M340.2 381.3h0M280.2 369.9h0M350.9 353.9h0M277.8 301.7h0M304.3 363.8h0M273.3 372.6h0M362.5 370.3h0M355.3 366.1h0M294.7 383.6h0M270.0 366.8h0M367.3 398.3h0M400.0 388.2h0M292.8 386.6h0M391.8 371.7h0M382.2 392.0h0M282.1 384.0h0M313.4 377.7h0M383.4 375.1h0M363.8 380.9h0M352.6 370.2h0M278.8 334.3h0M370.2 380.9h0M277.7 326.5h0M310.5 392.8h0M346.6 363.2h0M295.9 376.4h0M365.5 379.0h0M297.9 358.1h0M364.7 359.7h0M253.4 370.9h0M390.8 370.5h0M306.0 387.6h0M280.6 343.9h0M359.6 357.5h0M352.7 385.1h0M282.5 374.5h0M347.7 375.5h0M344.7 318.8h0M355.7 375.8h0M283.4 392.2h0M382.0 389.5h0M271.6 357.9h0M381.1 388.1h0M310.8 383.4h0M356.0 365.0h0M379.7 380.1h0M351.0 371.1h0M301.2 377.7h0M301.3 372.6h0M366.5 386.5h0M367.4 387.5h0M390.2 390.5h0M376.4 384.5h0M344.6 371.1h0M356.4 374.6h0M294.8 392.5h0M357.9 362.0h0M338.0 380.5h0M302.5 385.3h0M291.0 395.9h0M367.4 339.2h0M340.9 392.6h0M366.6 372.3h0M365.0 359.7h0M398.3 386.3h0M260.0 386.3h0M374.5 381.4h0M342.9 380.1h0M376.3 392.3h0M282.9 363.5h0M281.4 356.6h0M374.5 364.9h0M375.9 368.4h0M285.0 354.2h0M302.4 376.4h0M341.1 366.1h0M347.3 375.3h0M387.1 396.0h0M270.5 378.6h0M364.9 393.3h0M369.5 372.4h0M381.1 397.7h0M294.8 368.9h0M367.4 388.1h0M259.4 374.9h0M352.0 369.1h0M284.5 375.3h0M368.9 377.2h0M296.4 344.3h0M349.1 371.1h0M373.8 369.0h0M289.4 344.6h0M364.8 364.8h0M278.7 369.7h0M407.2 393.7h0M370.8 389.8h0M282.9 378.5h0M363.1 367.1h0M355.4 393.8h0M281.8 381.5h0M339.7 370.2h0M348.2 352.8h0M347.3 372.3h0M293.5 349.4h0M371.0 396.1h0M366.3 389.6h0M307.8 389.3h0M366.4 393.8h0M365.6 328.6h0M273.0 371.5h0M273.5 395.0h0M363.1 378.9h0" stroke="#ea2420" stroke-opacity="0.55" stroke-width="2.9" stroke-linecap="round"/>
<path d="M364.3 371.8h0M349.6 376.8h0M304.8 387.7h0M376.1 364.9h0M350.6 352.3h0M343.7 374.6h0M369.7 367.6h0M279.0 369.4h0M378.9 390.9h0M287.8 395.4h0M298.8 377.5h0M363.5 361.2h0M267.4 378.0h0M347.6 376.4h0M358.3 382.1h0M357.5 380.2h0M357.8 368.8h0M385.5 375.9h0M277.7 382.5h0M350.9 392.8h0M291.8 341.3h0M360.4 374.0h0M371.5 327.6h0M348.5 369.9h0M285.4 336.8h0M289.8 394.2h0M380.7 383.6h0M404.8 385.4h0M365.5 378.0h0M297.5 363.1h0M351.1 382.4h0M354.5 380.1h0M280.3 362.9h0M293.5 390.9h0M358.9 379.8h0M342.6 386.0h0M367.4 380.0h0M351.1 345.9h0M352.6 350.0h0M286.0 361.1h0M293.2 370.5h0M298.4 392.3h0M376.9 377.7h0M293.5 380.4h0M360.8 358.1h0M361.4 345.1h0M349.4 370.0h0M353.4 357.4h0M308.5 387.9h0M346.9 357.1h0M378.8 381.3h0M342.4 363.4h0M288.9 374.1h0M302.3 322.2h0M385.6 384.3h0M344.2 375.0h0M285.4 346.0h0M291.3 388.7h0M370.8 390.4h0M351.1 385.7h0M402.7 372.4h0M345.9 382.1h0M353.5 378.1h0M274.4 379.9h0M297.5 353.9h0M277.4 376.1h0M363.1 394.4h0M303.7 376.9h0M372.8 379.3h0M301.5 369.7h0M376.8 376.7h0M291.8 383.4h0M286.2 393.3h0M296.5 388.0h0M358.5 370.6h0M303.2 385.4h0M320.7 393.2h0M296.4 382.7h0M286.5 386.2h0M300.8 386.8h0M341.9 345.1h0M300.0 357.1h0M346.6 386.8h0M301.1 386.2h0M359.0 385.9h0M353.8 362.7h0M353.6 365.1h0M292.5 389.6h0M304.8 376.6h0M274.2 387.5h0M367.0 387.1h0M374.6 374.6h0M295.5 372.5h0M350.6 389.2h0M318.1 387.1h0M297.5 352.9h0M380.2 373.6h0M287.9 348.9h0M283.3 398.1h0M364.0 368.4h0M284.1 387.5h0M281.7 373.4h0M372.2 362.6h0M346.5 336.5h0M405.3 384.7h0M367.2 325.4h0M282.5 379.2h0M291.5 348.0h0M398.8 382.6h0M289.4 372.0h0M341.7 359.3h0M360.7 334.2h0M351.1 360.5h0M346.9 365.5h0M282.7 332.2h0M342.0 380.1h0M366.4 364.6h0M291.2 393.6h0M306.0 379.6h0M294.0 345.8h0M381.6 390.5h0M248.7 387.4h0M346.9 397.2h0M363.3 323.2h0M281.5 380.1h0M378.8 394.1h0M291.8 388.4h0M338.4 389.1h0M289.7 370.2h0M338.7 386.1h0M256.6 370.6h0M284.8 379.9h0M402.7 378.3h0M383.9 380.6h0M367.9 386.4h0M349.5 380.6h0M295.2 378.0h0M385.5 395.6h0M346.9 376.3h0M309.1 374.7h0M283.2 372.6h0M360.3 363.8h0M287.2 391.9h0M362.7 369.8h0M303.5 381.9h0M385.1 374.8h0M351.7 355.4h0M373.7 382.8h0M382.4 380.4h0M287.3 354.7h0M290.6 327.1h0M363.0 382.0h0M367.8 379.6h0M305.9 382.7h0M346.2 394.5h0M291.4 380.8h0M371.5 365.7h0M296.1 387.5h0M283.4 385.1h0M383.1 367.4h0M360.1 384.1h0M358.4 376.0h0M298.0 373.8h0M306.8 367.6h0M277.8 303.7h0M390.7 389.1h0M302.0 379.0h0M370.8 374.9h0M389.8 367.5h0M302.0 369.4h0M343.9 371.3h0M348.3 385.9h0M341.4 382.8h0M304.1 370.4h0M354.9 368.8h0M289.3 362.3h0M304.2 361.9h0M295.8 376.2h0M349.2 395.1h0M367.0 376.8h0M356.3 374.0h0M395.6 382.9h0M355.6 371.6h0M403.7 386.0h0M376.6 386.8h0M373.4 353.5h0M358.4 384.0h0M280.2 389.8h0M277.1 386.2h0M363.2 384.2h0M362.7 355.5h0M295.1 393.6h0M363.6 364.9h0M345.3 380.2h0M294.7 374.4h0M271.6 363.5h0M345.2 368.5h0M299.9 378.4h0M346.9 359.8h0M304.1 371.7h0M294.5 365.9h0M340.7 368.7h0M298.9 385.9h0M357.4 372.5h0M311.5 392.8h0M362.4 359.7h0M364.9 367.7h0M292.5 383.3h0M352.5 397.0h0M287.6 340.9h0M269.8 361.1h0M366.6 383.4h0M305.3 333.9h0M305.9 385.7h0M304.7 397.5h0M365.0 374.5h0M357.9 335.3h0M366.8 383.2h0M308.8 392.4h0M277.1 386.3h0M301.1 375.6h0M341.7 384.9h0M368.1 359.1h0M359.2 396.4h0M286.6 379.9h0M274.3 370.9h0M290.0 385.6h0M362.9 345.5h0M377.7 379.4h0M256.8 388.6h0M386.7 392.2h0M309.3 376.3h0M267.6 386.2h0" stroke="#ea2420" stroke-opacity="0.55" stroke-width="2.9" stroke-linecap="round"/>
<path d="M274.8 382.0h0M368.6 377.1h0M405.8 384.1h0M347.2 372.8h0M352.2 365.7h0M361.3 363.2h0M302.5 385.2h0M343.0 363.3h0M368.4 361.7h0M277.5 378.0h0M365.0 388.8h0M263.8 398.2h0M284.5 393.9h0M361.3 358.7h0M285.0 377.7h0M344.8 364.6h0M304.2 386.9h0M352.6 364.9h0M356.8 372.0h0M363.3 398.0h0M291.4 352.0h0M358.2 381.3h0M346.9 372.7h0M290.9 377.4h0M271.2 387.9h0M354.6 391.3h0M299.6 397.7h0M285.6 376.4h0M357.6 382.1h0M280.7 365.5h0M301.6 393.9h0M359.7 364.1h0M380.9 312.9h0M377.9 364.1h0M347.7 364.1h0M273.7 367.9h0M304.6 372.7h0M291.8 385.9h0M397.8 378.0h0M307.5 368.6h0M371.0 380.3h0M286.3 379.2h0M361.2 379.6h0M364.9 349.8h0M355.8 366.8h0M299.9 385.5h0M389.9 386.4h0M279.8 362.5h0M282.9 391.2h0M343.5 379.4h0M357.0 377.2h0M345.7 378.5h0M372.3 388.6h0M269.9 378.1h0M297.2 368.2h0M344.1 367.7h0M386.1 381.6h0M387.7 382.2h0M292.5 386.6h0M281.9 398.8h0M380.6 379.5h0M375.7 383.5h0M291.6 395.8h0M279.4 374.0h0M260.5 378.3h0M390.6 393.5h0M342.6 368.4h0M304.0 370.8h0M284.1 345.8h0M389.7 375.4h0M286.8 378.6h0M345.8 366.2h0M270.8 376.1h0M306.2 384.1h0M270.7 373.0h0M359.4 371.5h0M390.2 362.2h0M347.9 377.2h0M351.4 365.4h0M353.6 390.4h0M394.0 358.6h0M297.4 388.5h0M374.2 386.7h0M377.1 382.1h0M284.0 378.5h0M380.9 377.6h0M351.3 381.7h0M298.3 381.9h0M305.4 392.0h0M311.8 373.4h0M278.3 367.4h0M356.3 357.9h0M363.1 373.7h0M381.1 398.3h0M304.0 378.6h0M369.3 390.7h0M289.6 379.0h0M298.7 349.5h0M359.3 382.6h0M284.5 396.1h0M347.0 387.0h0M357.0 379.6h0M364.0 388.5h0M338.6 379.4h0M350.9 366.8h0M293.6 349.1h0M371.2 378.0h0M397.1 393.6h0M305.4 367.8h0M365.6 365.3h0M299.1 375.2h0M344.3 371.9h0M300.9 368.3h0M307.9 370.2h0M383.6 378.3h0M385.8 367.6h0M358.4 397.2h0M280.8 398.4h0M385.8 391.8h0M285.8 369.3h0M363.8 370.4h0M294.5 392.9h0M281.3 389.0h0M362.8 376.3h0M384.2 376.6h0M308.5 388.2h0M273.8 364.4h0M351.3 375.4h0M298.9 386.0h0M270.2 355.4h0M304.0 373.2h0M309.3 377.1h0M345.4 370.1h0M302.9 383.3h0M382.0 391.2h0M348.9 378.9h0M291.6 389.1h0M385.1 378.5h0M354.2 360.3h0M349.3 352.3h0M358.3 380.2h0M298.0 385.3h0M295.3 365.5h0M357.3 375.4h0M356.1 358.2h0M283.6 374.7h0M382.8 366.2h0M286.7 360.2h0M298.7 335.0h0M352.2 378.1h0M262.9 379.0h0M382.3 361.1h0M355.5 385.1h0M366.7 394.3h0M360.5 373.5h0M386.7 389.9h0M278.0 370.7h0M356.1 374.1h0M314.3 393.7h0M299.6 386.4h0M357.5 392.2h0M284.6 374.0h0M356.5 371.6h0M287.5 376.6h0M373.9 364.5h0M304.6 379.5h0M285.5 350.2h0M367.9 385.1h0M367.8 380.2h0M380.0 376.9h0M360.0 380.4h0M254.8 368.3h0M375.0 356.0h0M281.2 373.4h0M350.4 374.9h0M284.4 382.1h0M362.6 386.9h0M383.0 393.2h0M264.3 376.2h0M359.5 357.9h0M367.9 369.5h0M344.4 375.6h0M355.3 379.7h0M281.0 383.1h0M252.3 367.0h0M360.3 374.5h0M379.4 385.7h0M267.8 394.1h0M347.3 395.3h0M387.2 389.0h0M382.1 390.7h0M362.0 377.8h0M296.0 373.4h0M294.3 337.3h0M287.1 383.6h0M292.2 390.2h0M281.5 346.8h0M360.2 366.0h0M369.8 377.2h0M367.4 363.7h0M254.2 380.2h0M300.1 393.3h0M292.8 347.9h0M356.2 385.6h0M355.2 339.5h0M296.3 376.9h0M279.3 384.2h0M350.7 369.2h0M375.6 370.3h0M347.0 360.4h0M287.3 382.0h0M415.5 386.4h0M363.7 370.4h0M361.8 374.7h0M303.2 391.3h0M288.0 384.2h0M342.7 390.8h0M292.0 397.8h0M341.2 368.7h0M386.4 368.1h0M368.8 371.0h0M299.8 398.4h0M274.6 381.5h0M307.1 378.4h0M299.7 389.8h0M384.0 386.2h0M300.5 362.1h0M382.5 385.9h0M265.9 381.6h0M350.2 326.7h0M401.7 386.1h0M305.2 381.3h0M288.8 380.5h0" stroke="#ea2420" stroke-opacity="0.55" stroke-width="2.9" stroke-linecap="round"/>
<path d="M350.0 366.4h0M347.9 359.3h0M360.7 348.7h0M307.6 376.0h0M380.9 387.3h0M301.3 365.8h0M284.8 336.9h0M360.0 386.8h0M277.5 359.1h0M345.3 356.0h0M304.8 396.9h0M293.2 367.3h0M367.9 374.1h0M271.9 391.1h0M374.8 344.7h0M345.7 393.1h0M290.2 374.3h0M355.8 388.1h0M403.2 389.2h0M371.1 375.8h0M341.7 376.7h0M294.6 378.5h0M388.7 369.6h0M351.7 359.9h0M363.3 380.8h0M274.3 383.5h0M358.6 380.1h0M374.6 396.5h0M348.3 377.2h0M290.5 373.5h0M287.7 368.9h0M277.0 353.7h0M306.0 389.2h0M367.7 381.9h0M293.8 396.6h0M282.0 377.3h0M270.0 368.8h0M363.4 387.1h0M379.0 374.8h0M338.2 378.1h0M363.1 386.6h0M351.4 386.3h0M354.4 361.7h0M362.9 375.2h0M301.0 395.9h0M302.0 374.4h0M337.2 385.2h0M297.1 360.1h0M301.6 385.7h0M371.0 330.5h0M363.6 366.1h0M293.1 383.4h0M284.0 356.4h0M296.1 375.8h0M375.9 379.7h0M384.8 385.5h0M411.5 375.6h0M384.7 387.4h0M266.8 396.9h0M372.2 392.9h0M362.9 369.3h0M347.2 366.3h0M384.2 382.5h0M348.8 383.7h0M367.2 362.0h0M303.1 383.1h0M278.4 381.4h0M345.6 374.8h0M340.1 394.1h0M268.9 373.9h0M286.3 377.3h0M282.4 391.0h0M266.8 373.2h0M290.1 352.6h0M294.8 387.3h0M265.1 381.9h0M370.8 364.8h0M394.2 389.6h0M366.2 350.3h0M276.9 388.9h0M287.6 380.9h0M281.9 380.3h0M337.5 381.5h0M285.6 370.2h0M306.3 381.0h0M363.8 383.7h0M377.3 389.5h0M347.3 385.7h0M284.3 372.4h0M359.5 385.8h0M277.6 392.9h0M342.0 382.8h0M338.8 374.8h0M356.1 390.8h0M352.2 384.3h0M381.7 360.6h0M297.9 372.1h0M365.2 363.0h0M347.4 375.8h0M371.1 381.1h0M273.5 351.5h0M301.1 379.5h0M281.3 382.4h0M291.3 352.6h0M379.8 365.5h0M307.0 313.2h0M278.9 378.3h0M374.4 389.7h0M284.2 321.3h0M287.9 356.0h0M274.8 390.8h0M397.0 357.2h0M363.1 358.7h0M357.2 379.0h0M347.9 358.9h0M307.6 371.8h0M395.1 390.7h0M291.6 388.1h0M380.5 334.0h0M290.2 368.7h0M271.0 393.8h0M366.9 378.9h0M357.7 368.1h0M283.5 377.1h0M349.3 368.0h0M345.2 395.6h0M302.2 385.2h0M360.5 347.8h0M262.4 381.7h0M307.7 380.9h0M350.7 354.9h0M347.7 375.2h0M276.7 382.2h0M369.4 379.2h0M285.1 398.0h0M314.1 396.9h0M292.1 381.3h0M353.2 384.1h0M384.1 382.6h0M363.5 362.6h0M370.2 386.5h0M302.9 368.5h0M292.5 398.2h0M392.9 382.5h0M291.2 367.4h0M356.7 396.5h0M299.8 393.6h0M344.9 367.8h0M353.2 369.0h0M363.9 367.5h0M339.8 371.5h0M256.8 397.2h0M343.5 372.1h0M274.6 379.6h0M366.4 364.6h0M370.2 376.4h0M303.9 375.1h0M348.3 368.9h0M280.3 392.7h0M404.7 396.9h0M275.7 375.5h0M339.6 374.3h0M289.7 368.0h0M284.9 398.0h0M346.8 386.1h0M378.0 331.0h0M374.0 381.8h0M345.7 359.9h0M383.1 380.3h0M352.2 385.7h0M337.0 395.0h0M355.5 389.6h0M293.8 378.7h0M296.4 386.8h0M356.1 373.0h0M313.2 386.6h0M371.4 364.1h0M284.4 365.6h0M358.1 373.6h0M360.9 380.9h0M380.9 336.4h0M293.1 353.9h0M349.7 377.6h0M351.9 379.5h0M274.9 385.5h0M361.0 388.3h0M379.8 386.2h0M297.0 378.9h0M391.3 388.9h0M384.3 381.8h0M290.4 357.2h0M346.7 357.7h0M343.8 371.5h0M262.5 379.8h0M265.8 376.9h0M380.1 381.6h0M299.1 373.3h0M293.4 378.5h0M355.5 392.7h0M363.1 391.5h0M289.9 383.4h0M344.9 379.5h0M384.2 386.0h0M362.3 355.6h0M302.5 382.6h0M366.4 391.2h0M356.7 325.3h0M342.0 367.3h0M363.5 396.5h0M382.1 364.3h0M285.1 385.3h0M355.4 376.8h0M344.4 372.3h0M270.5 369.5h0M295.5 376.9h0M290.8 382.3h0M375.0 376.6h0M364.4 385.4h0M345.4 365.7h0M264.9 370.6h0M301.9 367.9h0M355.7 386.7h0M274.5 388.1h0M278.6 396.8h0M284.6 389.9h0M374.9 375.1h0M361.8 362.7h0M361.6 362.7h0M388.1 388.9h0M267.8 376.8h0M282.5 378.4h0M285.1 391.3h0M277.6 343.8h0" stroke="#ea2420" stroke-opacity="0.55" stroke-width="2.9" stroke-linecap="round"/>
<path d="M286.1 374.8h0M374.6 385.0h0M273.5 370.2h0M350.8 325.9h0M368.2 379.8h0M341.5 368.8h0M278.2 387.7h0M378.9 386.9h0M358.7 374.2h0M272.6 397.8h0M273.1 387.4h0M293.9 351.0h0M297.0 398.4h0M348.4 368.9h0M300.2 381.3h0M300.3 390.4h0M354.9 380.3h0M342.4 354.2h0M296.7 366.8h0M346.8 372.6h0M311.5 390.6h0M377.6 377.7h0M288.8 369.4h0M363.1 364.1h0M303.6 393.0h0M360.7 372.3h0M305.3 374.7h0M374.2 375.6h0M310.2 379.1h0M259.0 396.7h0M368.1 385.8h0M297.1 394.5h0M372.5 385.3h0M299.0 370.9h0M354.1 381.6h0M350.6 349.0h0M380.9 378.0h0M366.5 381.8h0M264.4 378.4h0M259.5 385.6h0M358.6 369.2h0M382.7 387.9h0M347.5 388.8h0M366.8 377.4h0M304.6 363.0h0M265.0 380.5h0M369.7 388.4h0M291.9 370.0h0M276.5 374.7h0M311.8 386.7h0M297.5 373.8h0M366.5 393.8h0M361.5 364.2h0M293.0 370.4h0M299.8 390.2h0M353.1 365.8h0M337.8 389.8h0M356.4 364.3h0M353.5 377.2h0M342.4 331.6h0M359.6 348.0h0M346.7 329.9h0M260.9 391.1h0M269.9 395.4h0M364.1 371.4h0M369.7 366.1h0M285.9 392.1h0M273.1 376.7h0M285.9 371.1h0M387.9 374.2h0M296.1 381.7h0M288.5 372.0h0M302.1 353.9h0M367.0 354.6h0M371.3 380.5h0M302.1 331.6h0M295.4 398.2h0M368.2 374.2h0M365.5 361.9h0M289.1 396.1h0M367.8 391.1h0M270.9 377.3h0M347.3 331.3h0M352.3 368.4h0M361.8 366.6h0M299.8 377.6h0M357.6 373.6h0M279.1 375.5h0M373.9 387.4h0M304.6 361.8h0M339.4 364.3h0M341.2 369.1h0M292.9 382.7h0M360.6 394.2h0M300.4 388.1h0M382.6 383.5h0M368.0 359.7h0M247.4 377.0h0M297.5 389.9h0M378.0 394.8h0M356.4 379.3h0M363.3 354.1h0M284.2 384.7h0M344.0 369.3h0M359.4 374.2h0M272.1 387.3h0M360.9 384.1h0M349.4 370.7h0M264.4 380.2h0M358.7 355.4h0M355.0 380.8h0M297.0 390.2h0M360.6 386.1h0M382.7 379.1h0M346.4 362.8h0M348.6 342.8h0M284.9 390.6h0M298.1 384.5h0M357.5 397.9h0M272.3 385.8h0M370.7 379.8h0M382.5 369.4h0M375.1 386.2h0M358.5 382.8h0M270.2 391.4h0M369.4 387.7h0M368.5 388.2h0M338.5 378.2h0M350.6 371.4h0M387.8 382.0h0M348.5 362.0h0M388.0 393.3h0M350.7 383.0h0M366.2 391.5h0M297.2 373.1h0M285.4 375.9h0M361.9 386.7h0M341.4 366.8h0M243.9 388.1h0M393.3 368.5h0M259.0 390.7h0M384.9 383.6h0M343.1 358.1h0M406.2 375.0h0M384.6 375.7h0M368.2 392.4h0M354.3 378.1h0M347.0 379.9h0M278.2 380.5h0M304.4 396.0h0M289.2 377.1h0M293.1 384.5h0M350.4 352.9h0M369.3 377.2h0M345.1 360.2h0M351.2 380.3h0M290.3 394.6h0M302.8 397.5h0M283.7 368.3h0M373.2 334.8h0M377.7 374.5h0M304.0 379.6h0M349.7 346.1h0M360.7 390.0h0M289.4 380.6h0M280.6 368.2h0M343.5 383.9h0M358.7 368.5h0M353.8 334.1h0M285.3 373.9h0M290.3 359.8h0M280.1 398.6h0M287.2 373.5h0M349.7 385.3h0M291.2 387.0h0M278.9 394.4h0M348.5 368.7h0M353.5 394.8h0M364.5 379.6h0M311.0 387.2h0M364.5 361.3h0M368.9 381.0h0M343.9 367.6h0M299.4 367.9h0M292.2 317.7h0M385.4 395.1h0M393.2 378.8h0M276.2 391.6h0M379.7 346.2h0M288.0 357.4h0M342.7 368.2h0M307.1 386.2h0M307.9 381.5h0M286.9 366.8h0M353.6 382.3h0M265.2 394.6h0M266.9 330.8h0M353.7 380.0h0M382.3 387.1h0M343.3 380.0h0M312.6 380.3h0M295.0 369.0h0M364.6 382.8h0M271.2 394.0h0M299.8 380.0h0M341.8 367.3h0M269.9 363.5h0M349.7 373.8h0M289.4 384.7h0M342.6 381.6h0M299.6 394.5h0M281.1 388.8h0M387.7 388.3h0M303.3 367.9h0M362.3 377.7h0M284.7 392.6h0M396.0 362.4h0M372.9 389.1h0M284.9 363.1h0M378.0 360.9h0M288.4 361.8h0M368.6 374.6h0M274.7 326.6h0M391.5 390.6h0M281.3 372.1h0M293.7 394.2h0M360.5 383.6h0M351.3 388.0h0M405.7 360.1h0M346.2 379.5h0M351.5 373.1h0M296.1 371.2h0M366.4 381.1h0" stroke="#ea2420" stroke-opacity="0.55" stroke-width="2.9" stroke-linecap="round"/>
<circle cx="279.2" cy="298.2" r="1.7" fill="#f3b4bc" fill-opacity="0.6"/><circle cx="279.2" cy="298.2" r="1.15" fill="#9a5468"/>
<circle cx="273.4" cy="316.2" r="1.7" fill="#f3b4bc" fill-opacity="0.6"/><circle cx="273.4" cy="316.2" r="1.15" fill="#9a5468"/>
<circle cx="278" cy="318" r="1.7" fill="#f3b4bc" fill-opacity="0.6"/><circle cx="278" cy="318" r="1.15" fill="#9a5468"/>
<circle cx="285" cy="318.5" r="1.7" fill="#f3b4bc" fill-opacity="0.6"/><circle cx="285" cy="318.5" r="1.15" fill="#9a5468"/>
<circle cx="292.3" cy="315" r="1.7" fill="#f3b4bc" fill-opacity="0.6"/><circle cx="292.3" cy="315" r="1.15" fill="#9a5468"/>
<circle cx="358" cy="300.5" r="1.7" fill="#f3b4bc" fill-opacity="0.6"/><circle cx="358" cy="300.5" r="1.15" fill="#9a5468"/>
<circle cx="363.9" cy="305.8" r="1.7" fill="#f3b4bc" fill-opacity="0.6"/><circle cx="363.9" cy="305.8" r="1.15" fill="#9a5468"/>
<circle cx="362.7" cy="310" r="1.7" fill="#f3b4bc" fill-opacity="0.6"/><circle cx="362.7" cy="310" r="1.15" fill="#9a5468"/>
<circle cx="373.5" cy="307.4" r="1.7" fill="#f3b4bc" fill-opacity="0.6"/><circle cx="373.5" cy="307.4" r="1.15" fill="#9a5468"/>
<circle cx="378" cy="309" r="1.7" fill="#f3b4bc" fill-opacity="0.6"/><circle cx="378" cy="309" r="1.15" fill="#9a5468"/>
<circle cx="143.5" cy="363.5" r="1.7" fill="#f3b4bc" fill-opacity="0.6"/><circle cx="143.5" cy="363.5" r="1.15" fill="#9a5468"/>
<circle cx="198" cy="362.9" r="1.7" fill="#f3b4bc" fill-opacity="0.6"/><circle cx="198" cy="362.9" r="1.15" fill="#9a5468"/>
<circle cx="199" cy="366.9" r="1.7" fill="#f3b4bc" fill-opacity="0.6"/><circle cx="199" cy="366.9" r="1.15" fill="#9a5468"/>
<circle cx="188.7" cy="369.5" r="1.7" fill="#f3b4bc" fill-opacity="0.6"/><circle cx="188.7" cy="369.5" r="1.15" fill="#9a5468"/>
<circle cx="192.2" cy="371.2" r="1.7" fill="#f3b4bc" fill-opacity="0.6"/><circle cx="192.2" cy="371.2" r="1.15" fill="#9a5468"/>
<circle cx="193.1" cy="383.5" r="1.7" fill="#f3b4bc" fill-opacity="0.6"/><circle cx="193.1" cy="383.5" r="1.15" fill="#9a5468"/>
<circle cx="209.7" cy="380.3" r="1.7" fill="#f3b4bc" fill-opacity="0.6"/><circle cx="209.7" cy="380.3" r="1.15" fill="#9a5468"/>
<circle cx="248.9" cy="373.8" r="1.7" fill="#f3b4bc" fill-opacity="0.6"/><circle cx="248.9" cy="373.8" r="1.15" fill="#9a5468"/>
<polygon points="329.6,398.7 329.2,398.6 328.9,398.6 328.5,398.5 328.2,398.3 327.8,398.0 327.5,397.7 327.1,397.4 326.8,396.9 326.4,396.4 326.1,395.8 325.7,395.1 325.4,394.4 325.0,393.6 324.7,392.7 324.3,391.7 324.0,390.6 323.6,389.5 323.3,388.3 322.9,386.9 322.6,385.5 322.6,398.7 329.6,398.7" fill="#2d48b0" fill-opacity="0.85"/>
<polygon points="329.6,398.7 330.0,398.6 330.3,398.6 330.7,398.5 331.0,398.3 331.4,398.0 331.7,397.7 332.1,397.4 332.4,396.9 332.8,396.4 333.1,395.8 333.5,395.1 333.8,394.4 334.2,393.6 334.5,392.7 334.9,391.7 335.2,390.6 335.6,389.5 335.9,388.3 336.3,386.9 336.6,385.5 336.6,398.7 329.6,398.7" fill="#2d48b0" fill-opacity="0.85"/>
<rect x="322.6" y="398.7" width="14" height="2.7" fill="#8a8a8a"/>
<path d="M282 398.7H322.6V401.8H286Z" fill="#2e8f2e" fill-opacity="0.9"/>
<path d="M336.6 398.7H378L374 401.8H336.6Z" fill="#2e8f2e" fill-opacity="0.9"/>
<circle cx="433.4" cy="330.3" r="0.8" fill="#111"/>
<circle cx="432.3" cy="331.4" r="0.8" fill="#111"/>
<circle cx="447.6" cy="344.4" r="0.8" fill="#111"/>
<circle cx="446" cy="345.3" r="0.8" fill="#111"/>
<circle cx="121.5" cy="315.7" r="1.0" fill="#111"/>
<circle cx="141.2" cy="346.6" r="1.0" fill="#111"/>
<circle cx="189.9" cy="347.3" r="1.0" fill="#111"/>
<circle cx="244.1" cy="346.4" r="1.0" fill="#111"/>
<circle cx="238.4" cy="361.2" r="1.0" fill="#111"/>
<circle cx="280.5" cy="255.7" r="1.0" fill="#111"/>
<circle cx="273" cy="285" r="1.0" fill="#111"/>
<circle cx="249.2" cy="293.8" r="1.0" fill="#111"/>
<circle cx="245.7" cy="314.3" r="1.0" fill="#111"/>
<circle cx="256.4" cy="335.9" r="1.0" fill="#111"/>
<circle cx="255.4" cy="343.3" r="1.0" fill="#111"/>
<circle cx="256.4" cy="355.5" r="1.0" fill="#111"/>
<circle cx="285.4" cy="351.7" r="1.0" fill="#111"/>
<circle cx="307.2" cy="362.3" r="1.0" fill="#111"/>
<circle cx="271" cy="391" r="1.0" fill="#111"/>
<circle cx="369" cy="266.5" r="1.0" fill="#111"/>
<circle cx="450.3" cy="248.8" r="1.0" fill="#111"/>
<circle cx="408" cy="299.5" r="1.0" fill="#111"/>
<circle cx="427.7" cy="312.7" r="1.0" fill="#111"/>
<circle cx="427.2" cy="323" r="1.0" fill="#111"/>
<circle cx="435" cy="328.8" r="1.0" fill="#111"/>
<circle cx="431.2" cy="332.3" r="1.0" fill="#111"/>
<circle cx="450.8" cy="342.7" r="1.0" fill="#111"/>
<circle cx="444.3" cy="346.2" r="1.0" fill="#111"/>
<circle cx="375.3" cy="333" r="1.0" fill="#111"/>
<circle cx="399.5" cy="327.2" r="1.0" fill="#111"/>
<circle cx="404.6" cy="346.2" r="1.0" fill="#111"/>
<circle cx="413.8" cy="349.2" r="1.0" fill="#111"/>
<circle cx="369.5" cy="384" r="1.0" fill="#111"/>
<circle cx="355.6" cy="393.6" r="1.0" fill="#111"/>
<circle cx="380.2" cy="384.9" r="1.0" fill="#111"/>
<text x="99.2" y="322.6" font-size="7.2" fill="#111" stroke="#111" stroke-width="0.15">ENOX1</text>
<text x="119.7" y="353.1" font-size="7.2" fill="#111" stroke="#111" stroke-width="0.15">GPR39</text>
<text x="184.7" y="345.8" font-size="7.2" fill="#111" stroke="#111" stroke-width="0.15">ANKRD2</text>
<text x="219.0" y="353.9" font-size="7.2" fill="#111" stroke="#111" stroke-width="0.15">SPOCK1</text>
<text x="217.6" y="368.1" font-size="7.2" fill="#111" stroke="#111" stroke-width="0.15">MMP1</text>
<text x="259.5" y="263.1" font-size="7.2" fill="#111" stroke="#111" stroke-width="0.15">MYOF</text>
<text x="272.1" y="281.8" font-size="7.2" fill="#111" stroke="#111" stroke-width="0.15">LAMB1</text>
<text x="230.5" y="300.0" font-size="7.2" fill="#111" stroke="#111" stroke-width="0.15">HHIP</text>
<text x="240.8" y="312.3" font-size="7.2" fill="#111" stroke="#111" stroke-width="0.15">EFEMP1</text>
<text x="232.1" y="333.9" font-size="7.2" fill="#111" stroke="#111" stroke-width="0.15">ANKRD1</text>
<text x="257.5" y="343.5" font-size="7.2" fill="#111" stroke="#111" stroke-width="0.15">HMGA2</text>
<text x="253.7" y="362.5" font-size="7.2" fill="#111" stroke="#111" stroke-width="0.15">VEPH1</text>
<text x="287.1" y="353.0" font-size="7.2" fill="#111" stroke="#111" stroke-width="0.15">CCNB2</text>
<text x="284.0" y="362.1" font-size="7.2" fill="#111" stroke="#111" stroke-width="0.15">CDK1</text>
<text x="310.0" y="366.7" font-size="7.2" fill="#111" stroke="#111" stroke-width="0.15">XPO1</text>
<text x="286.0" y="371.3" font-size="7.2" fill="#111" stroke="#111" stroke-width="0.15">E2F8</text>
<text x="247.3" y="396.5" font-size="7.2" fill="#111" stroke="#111" stroke-width="0.15">PDE1C</text>
<text x="300.3" y="404.9" font-size="6.8" fill="#111" stroke="#111" stroke-width="0.15">VWF</text>
<text x="323.8" y="404.9" font-size="6.8" fill="#111" stroke="#111" stroke-width="0.15">PROS1</text>
<text x="347.7" y="273.5" font-size="7.2" fill="#111" stroke="#111" stroke-width="0.15">TIMP1</text>
<text x="430.0" y="255.5" font-size="7.2" fill="#111" stroke="#111" stroke-width="0.15">FCN3</text>
<text x="382.0" y="298.1" font-size="7.2" fill="#111" stroke="#111" stroke-width="0.15">C1QTNF1</text>
<text x="429.5" y="311.5" font-size="7.2" fill="#111" stroke="#111" stroke-width="0.15">CD14</text>
<text x="405.8" y="320.8" font-size="7.2" fill="#111" stroke="#111" stroke-width="0.15">HSPA6</text>
<text x="433.5" y="327.3" font-size="7.2" fill="#111" stroke="#111" stroke-width="0.15">CLEC4M</text>
<text x="411.0" y="338.5" font-size="7.2" fill="#111" stroke="#111" stroke-width="0.15">CD74</text>
<text x="452.6" y="342.0" font-size="7.2" fill="#111" stroke="#111" stroke-width="0.15">CD4</text>
<text x="421.9" y="352.4" font-size="7.2" fill="#111" stroke="#111" stroke-width="0.15">CLEC3B</text>
<text x="364.6" y="333.0" font-size="7.2" fill="#111" stroke="#111" stroke-width="0.15">F8</text>
<text x="379.3" y="334.1" font-size="7.2" fill="#111" stroke="#111" stroke-width="0.15">ITGB2</text>
<text x="382.0" y="344.5" font-size="7.2" fill="#111" stroke="#111" stroke-width="0.15">KCNQ1</text>
<text x="397.5" y="354.8" font-size="7.2" fill="#111" stroke="#111" stroke-width="0.15">FOS</text>
<text x="356.0" y="383.3" font-size="7.2" fill="#111" stroke="#111" stroke-width="0.15">F10</text>
<text x="356.0" y="392.4" font-size="7.2" fill="#111" stroke="#111" stroke-width="0.15">F12</text>
<text x="372.4" y="392.4" font-size="7.2" fill="#111" stroke="#111" stroke-width="0.15">SERPINC1</text>
<rect x="280.2" y="476.90" width="137.1" height="9.8" fill="#36a936" stroke="#2d8a2d" stroke-width="0.5"/>
<rect x="280.2" y="488.08" width="112.7" height="9.8" fill="#36a936" stroke="#2d8a2d" stroke-width="0.5"/>
<rect x="280.2" y="499.26" width="108.8" height="9.8" fill="#36a936" stroke="#2d8a2d" stroke-width="0.5"/>
<rect x="280.2" y="510.44" width="105.0" height="9.8" fill="#36a936" stroke="#2d8a2d" stroke-width="0.5"/>
<rect x="280.2" y="521.62" width="97.7" height="9.8" fill="#36a936" stroke="#2d8a2d" stroke-width="0.5"/>
<rect x="280.2" y="532.80" width="94.0" height="9.8" fill="#36a936" stroke="#2d8a2d" stroke-width="0.5"/>
<rect x="280.2" y="543.98" width="94.0" height="9.8" fill="#36a936" stroke="#2d8a2d" stroke-width="0.5"/>
<rect x="280.2" y="555.16" width="92.5" height="9.8" fill="#36a936" stroke="#2d8a2d" stroke-width="0.5"/>
<rect x="280.2" y="566.34" width="90.6" height="9.8" fill="#36a936" stroke="#2d8a2d" stroke-width="0.5"/>
<rect x="280.2" y="577.52" width="88.6" height="9.8" fill="#36a936" stroke="#2d8a2d" stroke-width="0.5"/>
<rect x="280.2" y="588.70" width="85.4" height="9.8" fill="#36a936" stroke="#2d8a2d" stroke-width="0.5"/>
<text x="283.7" y="484.2" font-size="6.85" fill="#0e1e0e">TNFA_SIGNALING_VIA_NFKB</text>
<text x="283.7" y="495.4" font-size="6.85" fill="#0e1e0e">IL6_JAK_STAT3_SIGNALING</text>
<text x="283.7" y="506.6" font-size="6.85" fill="#0e1e0e">INTERFERON_GAMMA_RESPONSE</text>
<text x="283.7" y="517.7" font-size="6.85" fill="#0e1e0e">P53_PATHWAY</text>
<text x="283.7" y="528.9" font-size="6.85" fill="#0e1e0e">MYOGENESIS</text>
<text x="283.7" y="540.1" font-size="6.85" fill="#0e1e0e">INFLAMMATORY_RESPONSE</text>
<text x="283.7" y="551.3" font-size="6.85" fill="#0e1e0e">ALLOGRAFT_REJECTION</text>
<text x="283.7" y="562.5" font-size="6.85" fill="#0e1e0e">UV_RESPONSE_UP</text>
<text x="283.7" y="573.6" font-size="6.85" fill="#0e1e0e">XENOBIOTIC_METABOLISM</text>
<text x="283.7" y="584.8" font-size="6.85" fill="#0e1e0e">INTERFERON_ALPHA_RESPONSE</text>
<text x="283.7" y="596.0" font-size="6.85" fill="#0e1e0e">COAGULATION</text>
<rect x="277" y="476.5" width="1.9" height="122" fill="#4a5f80"/>
<rect x="181.9" y="600.20" width="98.4" height="9.7" fill="#c8102e"/>
<text x="276.3" y="607.4" font-size="6.75" fill="#fff" text-anchor="end">MTORC1_SIGNALING</text>
<rect x="176.2" y="611.40" width="104.1" height="9.7" fill="#c8102e"/>
<text x="276.3" y="618.6" font-size="6.75" fill="#fff" text-anchor="end">SPERMATOGENESIS</text>
<rect x="166.2" y="622.60" width="114.1" height="9.7" fill="#c8102e"/>
<text x="276.3" y="629.8" font-size="6.75" fill="#fff" text-anchor="end">PROTEIN_SECRETION</text>
<rect x="165.4" y="633.80" width="114.9" height="9.7" fill="#c8102e"/>
<text x="276.3" y="641.0" font-size="6.75" fill="#fff" text-anchor="end">MITOTIC_SPINDLE</text>
<rect x="141.5" y="645.00" width="138.8" height="9.7" fill="#c8102e"/>
<text x="276.3" y="652.2" font-size="6.75" fill="#fff" text-anchor="end">MYC_TARGETS_V1</text>
<rect x="113.1" y="656.20" width="167.2" height="9.7" fill="#c8102e"/>
<text x="276.3" y="663.4" font-size="6.75" fill="#fff" text-anchor="end">G2M_CHECKPOINT</text>
<rect x="112" y="667.40" width="168.3" height="9.7" fill="#c8102e"/>
<text x="276.3" y="674.6" font-size="6.75" fill="#fff" text-anchor="end">E2F_TARGETS</text>
<rect x="282.2" y="600.2" width="1.7" height="79" fill="#3f5f8a"/>
<path d="M271.2 538.4L278.2 534.2V542.8Z" fill="#1d3d6e"/>
<path d="M290.2 638.3L283.6 634.1V642.5Z" fill="#1d3d6e"/>
<text x="175" y="541" font-size="8.4" fill="#2d4e7e">Enrichment in: <tspan font-style="italic" fill="#262626">CV HLEC</tspan></text>
<text x="293.8" y="641.8" font-size="8.4" fill="#2d4e7e">Enrichment in: <tspan font-style="italic" fill="#262626">HUVEC</tspan></text>
<path d="M101.6 678.9H428.8" stroke="#3c4646" stroke-width="1.3"/>
<path d="M179.3 678.9V682" stroke="#3c4646" stroke-width="1"/>
<text x="179.3" y="692.6" font-size="8.2" fill="#333" text-anchor="middle">−2</text>
<path d="M280.6 678.9V682" stroke="#3c4646" stroke-width="1"/>
<text x="280.6" y="692.6" font-size="8.2" fill="#333" text-anchor="middle">0</text>
<path d="M381.9 678.9V682" stroke="#3c4646" stroke-width="1"/>
<text x="381.9" y="692.6" font-size="8.2" fill="#333" text-anchor="middle">2</text>
<text transform="translate(280.65,707.2) scale(0.70,1)" font-size="10" fill="#1a1a1a" stroke="#1a1a1a" stroke-width="0.3" text-anchor="middle">Normalized enriched score</text>
</svg>
</body></html>
